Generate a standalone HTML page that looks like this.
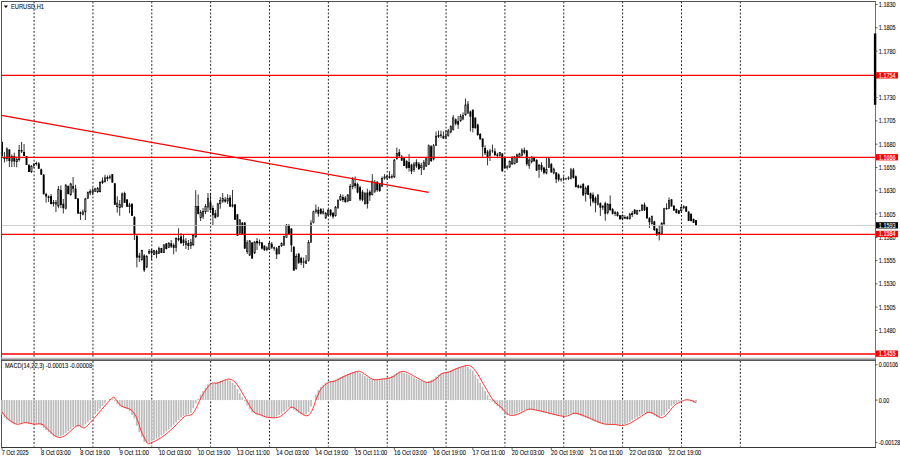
<!DOCTYPE html><html><head><meta charset="utf-8"><style>html,body{margin:0;padding:0;background:#fff;width:900px;height:460px;overflow:hidden}svg{display:block}text{font-family:"Liberation Sans",sans-serif}</style></head><body>
<svg width="900" height="460" viewBox="0 0 900 460">
<rect width="900" height="460" fill="#fff"/>
<line x1="34.08" y1="1.5" x2="34.08" y2="357.5" stroke="#202020" stroke-width="1" stroke-dasharray="1.84 1.84"/>
<line x1="34.08" y1="361" x2="34.08" y2="446.5" stroke="#202020" stroke-width="1" stroke-dasharray="1.84 1.84"/>
<line x1="92.94" y1="1.5" x2="92.94" y2="357.5" stroke="#202020" stroke-width="1" stroke-dasharray="1.84 1.84"/>
<line x1="92.94" y1="361" x2="92.94" y2="446.5" stroke="#202020" stroke-width="1" stroke-dasharray="1.84 1.84"/>
<line x1="151.79" y1="1.5" x2="151.79" y2="357.5" stroke="#202020" stroke-width="1" stroke-dasharray="1.84 1.84"/>
<line x1="151.79" y1="361" x2="151.79" y2="446.5" stroke="#202020" stroke-width="1" stroke-dasharray="1.84 1.84"/>
<line x1="210.65" y1="1.5" x2="210.65" y2="357.5" stroke="#202020" stroke-width="1" stroke-dasharray="1.84 1.84"/>
<line x1="210.65" y1="361" x2="210.65" y2="446.5" stroke="#202020" stroke-width="1" stroke-dasharray="1.84 1.84"/>
<line x1="269.50" y1="1.5" x2="269.50" y2="357.5" stroke="#202020" stroke-width="1" stroke-dasharray="1.84 1.84"/>
<line x1="269.50" y1="361" x2="269.50" y2="446.5" stroke="#202020" stroke-width="1" stroke-dasharray="1.84 1.84"/>
<line x1="328.36" y1="1.5" x2="328.36" y2="357.5" stroke="#202020" stroke-width="1" stroke-dasharray="1.84 1.84"/>
<line x1="328.36" y1="361" x2="328.36" y2="446.5" stroke="#202020" stroke-width="1" stroke-dasharray="1.84 1.84"/>
<line x1="387.21" y1="1.5" x2="387.21" y2="357.5" stroke="#202020" stroke-width="1" stroke-dasharray="1.84 1.84"/>
<line x1="387.21" y1="361" x2="387.21" y2="446.5" stroke="#202020" stroke-width="1" stroke-dasharray="1.84 1.84"/>
<line x1="446.07" y1="1.5" x2="446.07" y2="357.5" stroke="#202020" stroke-width="1" stroke-dasharray="1.84 1.84"/>
<line x1="446.07" y1="361" x2="446.07" y2="446.5" stroke="#202020" stroke-width="1" stroke-dasharray="1.84 1.84"/>
<line x1="504.92" y1="1.5" x2="504.92" y2="357.5" stroke="#202020" stroke-width="1" stroke-dasharray="1.84 1.84"/>
<line x1="504.92" y1="361" x2="504.92" y2="446.5" stroke="#202020" stroke-width="1" stroke-dasharray="1.84 1.84"/>
<line x1="563.78" y1="1.5" x2="563.78" y2="357.5" stroke="#202020" stroke-width="1" stroke-dasharray="1.84 1.84"/>
<line x1="563.78" y1="361" x2="563.78" y2="446.5" stroke="#202020" stroke-width="1" stroke-dasharray="1.84 1.84"/>
<line x1="622.63" y1="1.5" x2="622.63" y2="357.5" stroke="#202020" stroke-width="1" stroke-dasharray="1.84 1.84"/>
<line x1="622.63" y1="361" x2="622.63" y2="446.5" stroke="#202020" stroke-width="1" stroke-dasharray="1.84 1.84"/>
<line x1="681.49" y1="1.5" x2="681.49" y2="357.5" stroke="#202020" stroke-width="1" stroke-dasharray="1.84 1.84"/>
<line x1="681.49" y1="361" x2="681.49" y2="446.5" stroke="#202020" stroke-width="1" stroke-dasharray="1.84 1.84"/>
<line x1="740.34" y1="1.5" x2="740.34" y2="357.5" stroke="#202020" stroke-width="1" stroke-dasharray="1.84 1.84"/>
<line x1="740.34" y1="361" x2="740.34" y2="446.5" stroke="#202020" stroke-width="1" stroke-dasharray="1.84 1.84"/>
<line x1="2.00" y1="141.5" x2="2.00" y2="157.0" stroke="#000" stroke-width="0.8"/>
<rect x="1.05" y="142.0" width="1.9" height="14.0" fill="#000"/>
<line x1="4.45" y1="152.0" x2="4.45" y2="162.5" stroke="#000" stroke-width="0.8"/>
<rect x="3.50" y="157.0" width="1.9" height="2.0" fill="#000"/>
<line x1="6.90" y1="147.4" x2="6.90" y2="161.5" stroke="#000" stroke-width="0.8"/>
<rect x="6.25" y="148.8" width="1.30" height="9.9" fill="#9a9a9a" stroke="#000" stroke-width="0.6"/>
<line x1="9.36" y1="149.0" x2="9.36" y2="167.0" stroke="#000" stroke-width="0.8"/>
<rect x="8.41" y="149.5" width="1.9" height="11.5" fill="#000"/>
<line x1="11.81" y1="154.5" x2="11.81" y2="167.0" stroke="#000" stroke-width="0.8"/>
<rect x="11.16" y="156.3" width="1.30" height="4.9" fill="#9a9a9a" stroke="#000" stroke-width="0.6"/>
<line x1="14.26" y1="152.7" x2="14.26" y2="166.8" stroke="#000" stroke-width="0.8"/>
<rect x="13.31" y="156.0" width="1.9" height="5.5" fill="#000"/>
<line x1="16.71" y1="156.8" x2="16.71" y2="167.3" stroke="#000" stroke-width="0.8"/>
<rect x="16.06" y="159.3" width="1.30" height="2.4" fill="#9a9a9a" stroke="#000" stroke-width="0.6"/>
<line x1="19.17" y1="145.0" x2="19.17" y2="161.5" stroke="#000" stroke-width="0.8"/>
<rect x="18.52" y="150.3" width="1.30" height="9.4" fill="#9a9a9a" stroke="#000" stroke-width="0.6"/>
<line x1="21.62" y1="142.0" x2="21.62" y2="153.0" stroke="#000" stroke-width="0.8"/>
<rect x="20.67" y="150.0" width="1.9" height="1.5" fill="#000"/>
<line x1="24.07" y1="144.0" x2="24.07" y2="156.2" stroke="#000" stroke-width="0.8"/>
<rect x="23.12" y="152.0" width="1.9" height="4.0" fill="#000"/>
<line x1="26.52" y1="156.0" x2="26.52" y2="165.0" stroke="#000" stroke-width="0.8"/>
<rect x="25.57" y="156.0" width="1.9" height="9.0" fill="#000"/>
<line x1="28.98" y1="164.0" x2="28.98" y2="172.0" stroke="#000" stroke-width="0.8"/>
<rect x="28.03" y="165.0" width="1.9" height="7.0" fill="#000"/>
<line x1="31.43" y1="165.0" x2="31.43" y2="173.0" stroke="#000" stroke-width="0.8"/>
<rect x="30.78" y="166.3" width="1.30" height="5.4" fill="#9a9a9a" stroke="#000" stroke-width="0.6"/>
<line x1="33.88" y1="163.0" x2="33.88" y2="168.0" stroke="#000" stroke-width="0.8"/>
<rect x="33.23" y="164.3" width="1.30" height="1.4" fill="#9a9a9a" stroke="#000" stroke-width="0.6"/>
<line x1="36.33" y1="161.5" x2="36.33" y2="165.6" stroke="#000" stroke-width="0.8"/>
<rect x="35.68" y="163.3" width="1.30" height="0.4" fill="#9a9a9a" stroke="#000" stroke-width="0.6"/>
<line x1="38.78" y1="162.0" x2="38.78" y2="169.0" stroke="#000" stroke-width="0.8"/>
<rect x="37.83" y="163.5" width="1.9" height="5.2" fill="#000"/>
<line x1="41.24" y1="168.5" x2="41.24" y2="175.0" stroke="#000" stroke-width="0.8"/>
<rect x="40.29" y="169.3" width="1.9" height="5.3" fill="#000"/>
<line x1="43.69" y1="174.0" x2="43.69" y2="194.5" stroke="#000" stroke-width="0.8"/>
<rect x="42.74" y="174.6" width="1.9" height="19.5" fill="#000"/>
<line x1="46.14" y1="192.8" x2="46.14" y2="202.6" stroke="#000" stroke-width="0.8"/>
<rect x="45.19" y="194.0" width="1.9" height="2.5" fill="#000"/>
<line x1="48.59" y1="195.4" x2="48.59" y2="202.0" stroke="#000" stroke-width="0.8"/>
<rect x="47.64" y="196.5" width="1.9" height="1.5" fill="#000"/>
<line x1="51.05" y1="194.0" x2="51.05" y2="204.5" stroke="#000" stroke-width="0.8"/>
<rect x="50.10" y="196.0" width="1.9" height="8.0" fill="#000"/>
<line x1="53.50" y1="200.0" x2="53.50" y2="206.5" stroke="#000" stroke-width="0.8"/>
<rect x="52.55" y="202.0" width="1.9" height="2.0" fill="#000"/>
<line x1="55.95" y1="200.0" x2="55.95" y2="212.0" stroke="#000" stroke-width="0.8"/>
<rect x="55.30" y="202.6" width="1.30" height="1.6" fill="#9a9a9a" stroke="#000" stroke-width="0.6"/>
<line x1="58.40" y1="186.0" x2="58.40" y2="208.2" stroke="#000" stroke-width="0.8"/>
<rect x="57.75" y="189.6" width="1.30" height="16.4" fill="#9a9a9a" stroke="#000" stroke-width="0.6"/>
<line x1="60.86" y1="185.4" x2="60.86" y2="208.2" stroke="#000" stroke-width="0.8"/>
<rect x="59.91" y="190.0" width="1.9" height="15.0" fill="#000"/>
<line x1="63.31" y1="199.0" x2="63.31" y2="213.5" stroke="#000" stroke-width="0.8"/>
<rect x="62.36" y="203.7" width="1.9" height="4.5" fill="#000"/>
<line x1="65.76" y1="184.1" x2="65.76" y2="209.5" stroke="#000" stroke-width="0.8"/>
<rect x="65.11" y="185.1" width="1.30" height="23.5" fill="#9a9a9a" stroke="#000" stroke-width="0.6"/>
<line x1="68.21" y1="185.4" x2="68.21" y2="194.5" stroke="#000" stroke-width="0.8"/>
<rect x="67.26" y="186.0" width="1.9" height="8.0" fill="#000"/>
<line x1="70.66" y1="182.8" x2="70.66" y2="195.8" stroke="#000" stroke-width="0.8"/>
<rect x="70.01" y="183.8" width="1.30" height="10.9" fill="#9a9a9a" stroke="#000" stroke-width="0.6"/>
<line x1="73.12" y1="177.0" x2="73.12" y2="192.6" stroke="#000" stroke-width="0.8"/>
<rect x="72.17" y="186.1" width="1.9" height="2.6" fill="#000"/>
<line x1="75.57" y1="184.8" x2="75.57" y2="199.1" stroke="#000" stroke-width="0.8"/>
<rect x="74.62" y="188.7" width="1.9" height="10.3" fill="#000"/>
<line x1="78.02" y1="198.0" x2="78.02" y2="214.0" stroke="#000" stroke-width="0.8"/>
<rect x="77.07" y="198.5" width="1.9" height="15.0" fill="#000"/>
<line x1="80.47" y1="211.5" x2="80.47" y2="220.0" stroke="#000" stroke-width="0.8"/>
<rect x="79.52" y="212.2" width="1.9" height="1.8" fill="#000"/>
<line x1="82.93" y1="209.5" x2="82.93" y2="215.4" stroke="#000" stroke-width="0.8"/>
<rect x="82.28" y="211.8" width="1.30" height="2.7" fill="#9a9a9a" stroke="#000" stroke-width="0.6"/>
<line x1="85.38" y1="197.8" x2="85.38" y2="220.0" stroke="#000" stroke-width="0.8"/>
<rect x="84.73" y="198.8" width="1.30" height="13.1" fill="#9a9a9a" stroke="#000" stroke-width="0.6"/>
<line x1="87.83" y1="191.5" x2="87.83" y2="199.0" stroke="#000" stroke-width="0.8"/>
<rect x="87.18" y="192.3" width="1.30" height="5.9" fill="#9a9a9a" stroke="#000" stroke-width="0.6"/>
<line x1="90.28" y1="189.3" x2="90.28" y2="195.2" stroke="#000" stroke-width="0.8"/>
<rect x="89.63" y="191.6" width="1.30" height="1.4" fill="#9a9a9a" stroke="#000" stroke-width="0.6"/>
<line x1="92.74" y1="187.4" x2="92.74" y2="195.2" stroke="#000" stroke-width="0.8"/>
<rect x="92.09" y="190.9" width="1.30" height="1.4" fill="#9a9a9a" stroke="#000" stroke-width="0.6"/>
<line x1="95.19" y1="187.8" x2="95.19" y2="192.0" stroke="#000" stroke-width="0.8"/>
<rect x="94.54" y="188.8" width="1.30" height="2.4" fill="#9a9a9a" stroke="#000" stroke-width="0.6"/>
<line x1="97.64" y1="187.0" x2="97.64" y2="193.0" stroke="#000" stroke-width="0.8"/>
<rect x="96.99" y="188.3" width="1.30" height="3.4" fill="#9a9a9a" stroke="#000" stroke-width="0.6"/>
<line x1="100.09" y1="181.3" x2="100.09" y2="192.4" stroke="#000" stroke-width="0.8"/>
<rect x="99.44" y="182.3" width="1.30" height="9.4" fill="#9a9a9a" stroke="#000" stroke-width="0.6"/>
<line x1="102.54" y1="177.4" x2="102.54" y2="184.0" stroke="#000" stroke-width="0.8"/>
<rect x="101.59" y="180.6" width="1.9" height="2.4" fill="#000"/>
<line x1="105.00" y1="174.8" x2="105.00" y2="182.6" stroke="#000" stroke-width="0.8"/>
<rect x="104.35" y="177.7" width="1.30" height="4.0" fill="#9a9a9a" stroke="#000" stroke-width="0.6"/>
<line x1="107.45" y1="175.5" x2="107.45" y2="181.3" stroke="#000" stroke-width="0.8"/>
<rect x="106.80" y="177.3" width="1.30" height="1.4" fill="#9a9a9a" stroke="#000" stroke-width="0.6"/>
<line x1="109.90" y1="174.8" x2="109.90" y2="179.4" stroke="#000" stroke-width="0.8"/>
<rect x="109.25" y="176.8" width="1.30" height="0.9" fill="#9a9a9a" stroke="#000" stroke-width="0.6"/>
<line x1="112.35" y1="174.0" x2="112.35" y2="182.6" stroke="#000" stroke-width="0.8"/>
<rect x="111.40" y="174.2" width="1.9" height="8.4" fill="#000"/>
<line x1="114.81" y1="183.0" x2="114.81" y2="205.0" stroke="#000" stroke-width="0.8"/>
<rect x="113.86" y="183.3" width="1.9" height="21.5" fill="#000"/>
<line x1="117.26" y1="196.3" x2="117.26" y2="212.6" stroke="#000" stroke-width="0.8"/>
<rect x="116.61" y="203.1" width="1.30" height="3.6" fill="#9a9a9a" stroke="#000" stroke-width="0.6"/>
<line x1="119.71" y1="200.0" x2="119.71" y2="215.8" stroke="#000" stroke-width="0.8"/>
<rect x="119.06" y="204.3" width="1.30" height="3.4" fill="#9a9a9a" stroke="#000" stroke-width="0.6"/>
<line x1="122.16" y1="192.4" x2="122.16" y2="208.0" stroke="#000" stroke-width="0.8"/>
<rect x="121.51" y="194.0" width="1.30" height="12.4" fill="#9a9a9a" stroke="#000" stroke-width="0.6"/>
<line x1="124.62" y1="191.7" x2="124.62" y2="203.0" stroke="#000" stroke-width="0.8"/>
<rect x="123.67" y="193.0" width="1.9" height="9.8" fill="#000"/>
<line x1="127.07" y1="199.0" x2="127.07" y2="207.0" stroke="#000" stroke-width="0.8"/>
<rect x="126.12" y="199.5" width="1.9" height="7.2" fill="#000"/>
<line x1="129.52" y1="202.8" x2="129.52" y2="213.2" stroke="#000" stroke-width="0.8"/>
<rect x="128.87" y="204.8" width="1.30" height="1.9" fill="#9a9a9a" stroke="#000" stroke-width="0.6"/>
<line x1="131.97" y1="203.0" x2="131.97" y2="216.0" stroke="#000" stroke-width="0.8"/>
<rect x="131.02" y="204.0" width="1.9" height="11.8" fill="#000"/>
<line x1="134.42" y1="216.0" x2="134.42" y2="240.0" stroke="#000" stroke-width="0.8"/>
<rect x="133.47" y="217.0" width="1.9" height="17.8" fill="#000"/>
<line x1="136.88" y1="235.0" x2="136.88" y2="267.4" stroke="#000" stroke-width="0.8"/>
<rect x="135.93" y="236.0" width="1.9" height="21.6" fill="#000"/>
<line x1="139.33" y1="253.0" x2="139.33" y2="262.0" stroke="#000" stroke-width="0.8"/>
<rect x="138.38" y="255.6" width="1.9" height="2.0" fill="#000"/>
<line x1="141.78" y1="249.8" x2="141.78" y2="260.8" stroke="#000" stroke-width="0.8"/>
<rect x="141.13" y="250.3" width="1.30" height="9.4" fill="#9a9a9a" stroke="#000" stroke-width="0.6"/>
<line x1="144.23" y1="254.0" x2="144.23" y2="272.0" stroke="#000" stroke-width="0.8"/>
<rect x="143.28" y="255.5" width="1.9" height="14.9" fill="#000"/>
<line x1="146.69" y1="255.0" x2="146.69" y2="268.0" stroke="#000" stroke-width="0.8"/>
<rect x="146.04" y="256.3" width="1.30" height="10.8" fill="#9a9a9a" stroke="#000" stroke-width="0.6"/>
<line x1="149.14" y1="249.0" x2="149.14" y2="254.3" stroke="#000" stroke-width="0.8"/>
<rect x="148.49" y="251.3" width="1.30" height="1.9" fill="#9a9a9a" stroke="#000" stroke-width="0.6"/>
<line x1="151.59" y1="249.0" x2="151.59" y2="260.0" stroke="#000" stroke-width="0.8"/>
<rect x="150.64" y="250.5" width="1.9" height="2.5" fill="#000"/>
<line x1="154.04" y1="249.8" x2="154.04" y2="255.0" stroke="#000" stroke-width="0.8"/>
<rect x="153.39" y="250.3" width="1.30" height="4.4" fill="#9a9a9a" stroke="#000" stroke-width="0.6"/>
<line x1="156.49" y1="249.8" x2="156.49" y2="258.2" stroke="#000" stroke-width="0.8"/>
<rect x="155.54" y="251.0" width="1.9" height="3.3" fill="#000"/>
<line x1="158.95" y1="246.5" x2="158.95" y2="254.0" stroke="#000" stroke-width="0.8"/>
<rect x="158.30" y="248.3" width="1.30" height="5.1" fill="#9a9a9a" stroke="#000" stroke-width="0.6"/>
<line x1="161.40" y1="247.8" x2="161.40" y2="253.0" stroke="#000" stroke-width="0.8"/>
<rect x="160.45" y="248.0" width="1.9" height="5.0" fill="#000"/>
<line x1="163.85" y1="244.5" x2="163.85" y2="253.0" stroke="#000" stroke-width="0.8"/>
<rect x="163.20" y="244.8" width="1.30" height="7.9" fill="#9a9a9a" stroke="#000" stroke-width="0.6"/>
<line x1="166.30" y1="243.0" x2="166.30" y2="249.5" stroke="#000" stroke-width="0.8"/>
<rect x="165.35" y="243.5" width="1.9" height="5.5" fill="#000"/>
<line x1="168.76" y1="242.0" x2="168.76" y2="248.0" stroke="#000" stroke-width="0.8"/>
<rect x="168.11" y="243.6" width="1.30" height="3.9" fill="#9a9a9a" stroke="#000" stroke-width="0.6"/>
<line x1="171.21" y1="240.0" x2="171.21" y2="248.0" stroke="#000" stroke-width="0.8"/>
<rect x="170.26" y="243.3" width="1.9" height="3.2" fill="#000"/>
<line x1="173.66" y1="243.3" x2="173.66" y2="254.3" stroke="#000" stroke-width="0.8"/>
<rect x="172.71" y="245.0" width="1.9" height="2.8" fill="#000"/>
<line x1="176.11" y1="237.4" x2="176.11" y2="251.7" stroke="#000" stroke-width="0.8"/>
<rect x="175.46" y="238.3" width="1.30" height="9.2" fill="#9a9a9a" stroke="#000" stroke-width="0.6"/>
<line x1="178.57" y1="228.3" x2="178.57" y2="241.3" stroke="#000" stroke-width="0.8"/>
<rect x="177.62" y="238.0" width="1.9" height="2.0" fill="#000"/>
<line x1="181.02" y1="233.0" x2="181.02" y2="244.0" stroke="#000" stroke-width="0.8"/>
<rect x="180.07" y="236.5" width="1.9" height="6.5" fill="#000"/>
<line x1="183.47" y1="235.0" x2="183.47" y2="246.0" stroke="#000" stroke-width="0.8"/>
<rect x="182.52" y="239.5" width="1.9" height="3.5" fill="#000"/>
<line x1="185.92" y1="238.0" x2="185.92" y2="249.0" stroke="#000" stroke-width="0.8"/>
<rect x="185.27" y="241.3" width="1.30" height="3.4" fill="#9a9a9a" stroke="#000" stroke-width="0.6"/>
<line x1="188.37" y1="240.0" x2="188.37" y2="250.0" stroke="#000" stroke-width="0.8"/>
<rect x="187.42" y="243.0" width="1.9" height="3.0" fill="#000"/>
<line x1="190.83" y1="239.0" x2="190.83" y2="249.0" stroke="#000" stroke-width="0.8"/>
<rect x="190.18" y="242.3" width="1.30" height="3.4" fill="#9a9a9a" stroke="#000" stroke-width="0.6"/>
<line x1="193.28" y1="234.5" x2="193.28" y2="246.0" stroke="#000" stroke-width="0.8"/>
<rect x="192.63" y="235.6" width="1.30" height="9.1" fill="#9a9a9a" stroke="#000" stroke-width="0.6"/>
<line x1="195.73" y1="190.2" x2="195.73" y2="237.8" stroke="#000" stroke-width="0.8"/>
<rect x="195.08" y="206.5" width="1.30" height="30.4" fill="#9a9a9a" stroke="#000" stroke-width="0.6"/>
<line x1="198.18" y1="194.5" x2="198.18" y2="214.5" stroke="#000" stroke-width="0.8"/>
<rect x="197.23" y="206.0" width="1.9" height="7.9" fill="#000"/>
<line x1="200.64" y1="210.0" x2="200.64" y2="221.0" stroke="#000" stroke-width="0.8"/>
<rect x="199.99" y="212.3" width="1.30" height="5.4" fill="#9a9a9a" stroke="#000" stroke-width="0.6"/>
<line x1="203.09" y1="208.0" x2="203.09" y2="219.0" stroke="#000" stroke-width="0.8"/>
<rect x="202.44" y="211.6" width="1.30" height="4.6" fill="#9a9a9a" stroke="#000" stroke-width="0.6"/>
<line x1="205.54" y1="204.0" x2="205.54" y2="214.0" stroke="#000" stroke-width="0.8"/>
<rect x="204.89" y="206.3" width="1.30" height="5.4" fill="#9a9a9a" stroke="#000" stroke-width="0.6"/>
<line x1="207.99" y1="193.0" x2="207.99" y2="212.0" stroke="#000" stroke-width="0.8"/>
<rect x="207.34" y="198.6" width="1.30" height="8.5" fill="#9a9a9a" stroke="#000" stroke-width="0.6"/>
<line x1="210.45" y1="193.0" x2="210.45" y2="212.6" stroke="#000" stroke-width="0.8"/>
<rect x="209.50" y="202.2" width="1.9" height="7.8" fill="#000"/>
<line x1="212.90" y1="205.4" x2="212.90" y2="225.0" stroke="#000" stroke-width="0.8"/>
<rect x="211.95" y="208.0" width="1.9" height="7.2" fill="#000"/>
<line x1="215.35" y1="210.0" x2="215.35" y2="218.5" stroke="#000" stroke-width="0.8"/>
<rect x="214.40" y="213.2" width="1.9" height="4.6" fill="#000"/>
<line x1="217.80" y1="202.8" x2="217.80" y2="217.2" stroke="#000" stroke-width="0.8"/>
<rect x="217.15" y="203.8" width="1.30" height="12.4" fill="#9a9a9a" stroke="#000" stroke-width="0.6"/>
<line x1="220.25" y1="197.0" x2="220.25" y2="208.7" stroke="#000" stroke-width="0.8"/>
<rect x="219.60" y="200.5" width="1.30" height="3.3" fill="#9a9a9a" stroke="#000" stroke-width="0.6"/>
<line x1="222.71" y1="193.0" x2="222.71" y2="202.8" stroke="#000" stroke-width="0.8"/>
<rect x="222.06" y="198.6" width="1.30" height="2.6" fill="#9a9a9a" stroke="#000" stroke-width="0.6"/>
<line x1="225.16" y1="197.0" x2="225.16" y2="202.8" stroke="#000" stroke-width="0.8"/>
<rect x="224.21" y="199.5" width="1.9" height="2.0" fill="#000"/>
<line x1="227.61" y1="194.3" x2="227.61" y2="204.0" stroke="#000" stroke-width="0.8"/>
<rect x="226.96" y="198.6" width="1.30" height="2.6" fill="#9a9a9a" stroke="#000" stroke-width="0.6"/>
<line x1="230.06" y1="195.0" x2="230.06" y2="206.7" stroke="#000" stroke-width="0.8"/>
<rect x="229.11" y="197.6" width="1.9" height="9.1" fill="#000"/>
<line x1="232.52" y1="190.0" x2="232.52" y2="207.5" stroke="#000" stroke-width="0.8"/>
<rect x="231.57" y="204.5" width="1.9" height="2.0" fill="#000"/>
<line x1="234.97" y1="204.0" x2="234.97" y2="220.0" stroke="#000" stroke-width="0.8"/>
<rect x="234.02" y="204.5" width="1.9" height="15.2" fill="#000"/>
<line x1="237.42" y1="214.0" x2="237.42" y2="236.0" stroke="#000" stroke-width="0.8"/>
<rect x="236.47" y="214.4" width="1.9" height="21.3" fill="#000"/>
<line x1="239.87" y1="219.0" x2="239.87" y2="234.5" stroke="#000" stroke-width="0.8"/>
<rect x="239.22" y="220.0" width="1.30" height="13.1" fill="#9a9a9a" stroke="#000" stroke-width="0.6"/>
<line x1="242.33" y1="222.0" x2="242.33" y2="235.0" stroke="#000" stroke-width="0.8"/>
<rect x="241.38" y="222.7" width="1.9" height="11.4" fill="#000"/>
<line x1="244.78" y1="222.0" x2="244.78" y2="249.0" stroke="#000" stroke-width="0.8"/>
<rect x="243.83" y="222.7" width="1.9" height="25.9" fill="#000"/>
<line x1="247.23" y1="240.2" x2="247.23" y2="254.0" stroke="#000" stroke-width="0.8"/>
<rect x="246.58" y="242.8" width="1.30" height="8.9" fill="#9a9a9a" stroke="#000" stroke-width="0.6"/>
<line x1="249.68" y1="240.0" x2="249.68" y2="256.0" stroke="#000" stroke-width="0.8"/>
<rect x="249.03" y="240.8" width="1.30" height="14.3" fill="#9a9a9a" stroke="#000" stroke-width="0.6"/>
<line x1="252.13" y1="242.0" x2="252.13" y2="259.0" stroke="#000" stroke-width="0.8"/>
<rect x="251.18" y="242.5" width="1.9" height="16.0" fill="#000"/>
<line x1="254.59" y1="241.0" x2="254.59" y2="254.0" stroke="#000" stroke-width="0.8"/>
<rect x="253.94" y="242.1" width="1.30" height="10.8" fill="#9a9a9a" stroke="#000" stroke-width="0.6"/>
<line x1="257.04" y1="238.0" x2="257.04" y2="250.0" stroke="#000" stroke-width="0.8"/>
<rect x="256.09" y="241.0" width="1.9" height="2.3" fill="#000"/>
<line x1="259.49" y1="239.5" x2="259.49" y2="245.6" stroke="#000" stroke-width="0.8"/>
<rect x="258.54" y="241.8" width="1.9" height="1.5" fill="#000"/>
<line x1="261.94" y1="242.0" x2="261.94" y2="249.5" stroke="#000" stroke-width="0.8"/>
<rect x="260.99" y="242.5" width="1.9" height="6.1" fill="#000"/>
<line x1="264.40" y1="245.5" x2="264.40" y2="251.0" stroke="#000" stroke-width="0.8"/>
<rect x="263.45" y="245.6" width="1.9" height="4.5" fill="#000"/>
<line x1="266.85" y1="246.3" x2="266.85" y2="251.0" stroke="#000" stroke-width="0.8"/>
<rect x="266.20" y="247.8" width="1.30" height="1.9" fill="#9a9a9a" stroke="#000" stroke-width="0.6"/>
<line x1="269.30" y1="241.8" x2="269.30" y2="250.0" stroke="#000" stroke-width="0.8"/>
<rect x="268.65" y="243.6" width="1.30" height="5.5" fill="#9a9a9a" stroke="#000" stroke-width="0.6"/>
<line x1="271.75" y1="242.0" x2="271.75" y2="249.0" stroke="#000" stroke-width="0.8"/>
<rect x="270.80" y="243.8" width="1.9" height="3.8" fill="#000"/>
<line x1="274.21" y1="246.5" x2="274.21" y2="250.7" stroke="#000" stroke-width="0.8"/>
<rect x="273.56" y="247.8" width="1.30" height="0.4" fill="#9a9a9a" stroke="#000" stroke-width="0.6"/>
<line x1="276.66" y1="247.0" x2="276.66" y2="259.0" stroke="#000" stroke-width="0.8"/>
<rect x="275.71" y="248.4" width="1.9" height="6.1" fill="#000"/>
<line x1="279.11" y1="245.5" x2="279.11" y2="254.5" stroke="#000" stroke-width="0.8"/>
<rect x="278.46" y="246.3" width="1.30" height="7.1" fill="#9a9a9a" stroke="#000" stroke-width="0.6"/>
<line x1="281.56" y1="242.3" x2="281.56" y2="247.0" stroke="#000" stroke-width="0.8"/>
<rect x="280.91" y="243.6" width="1.30" height="2.1" fill="#9a9a9a" stroke="#000" stroke-width="0.6"/>
<line x1="284.01" y1="235.5" x2="284.01" y2="246.0" stroke="#000" stroke-width="0.8"/>
<rect x="283.36" y="236.5" width="1.30" height="8.5" fill="#9a9a9a" stroke="#000" stroke-width="0.6"/>
<line x1="286.47" y1="224.0" x2="286.47" y2="238.0" stroke="#000" stroke-width="0.8"/>
<rect x="285.82" y="225.1" width="1.30" height="12.3" fill="#9a9a9a" stroke="#000" stroke-width="0.6"/>
<line x1="288.92" y1="224.0" x2="288.92" y2="234.5" stroke="#000" stroke-width="0.8"/>
<rect x="287.97" y="225.0" width="1.9" height="8.9" fill="#000"/>
<line x1="291.37" y1="228.0" x2="291.37" y2="252.0" stroke="#000" stroke-width="0.8"/>
<rect x="290.42" y="228.6" width="1.9" height="16.7" fill="#000"/>
<line x1="293.82" y1="246.0" x2="293.82" y2="271.0" stroke="#000" stroke-width="0.8"/>
<rect x="292.87" y="246.9" width="1.9" height="23.5" fill="#000"/>
<line x1="296.28" y1="253.7" x2="296.28" y2="269.7" stroke="#000" stroke-width="0.8"/>
<rect x="295.63" y="256.3" width="1.30" height="12.4" fill="#9a9a9a" stroke="#000" stroke-width="0.6"/>
<line x1="298.73" y1="253.0" x2="298.73" y2="264.0" stroke="#000" stroke-width="0.8"/>
<rect x="297.78" y="253.7" width="1.9" height="9.1" fill="#000"/>
<line x1="301.18" y1="256.8" x2="301.18" y2="265.0" stroke="#000" stroke-width="0.8"/>
<rect x="300.23" y="258.0" width="1.9" height="4.8" fill="#000"/>
<line x1="303.63" y1="257.5" x2="303.63" y2="268.0" stroke="#000" stroke-width="0.8"/>
<rect x="302.98" y="261.8" width="1.30" height="0.9" fill="#9a9a9a" stroke="#000" stroke-width="0.6"/>
<line x1="306.09" y1="255.0" x2="306.09" y2="264.0" stroke="#000" stroke-width="0.8"/>
<rect x="305.44" y="260.9" width="1.30" height="2.3" fill="#9a9a9a" stroke="#000" stroke-width="0.6"/>
<line x1="308.54" y1="240.0" x2="308.54" y2="261.5" stroke="#000" stroke-width="0.8"/>
<rect x="307.89" y="242.6" width="1.30" height="17.7" fill="#9a9a9a" stroke="#000" stroke-width="0.6"/>
<line x1="310.99" y1="220.2" x2="310.99" y2="243.0" stroke="#000" stroke-width="0.8"/>
<rect x="310.34" y="223.1" width="1.30" height="19.0" fill="#9a9a9a" stroke="#000" stroke-width="0.6"/>
<line x1="313.44" y1="210.6" x2="313.44" y2="223.5" stroke="#000" stroke-width="0.8"/>
<rect x="312.79" y="211.7" width="1.30" height="10.8" fill="#9a9a9a" stroke="#000" stroke-width="0.6"/>
<line x1="315.89" y1="204.5" x2="315.89" y2="213.7" stroke="#000" stroke-width="0.8"/>
<rect x="315.24" y="209.8" width="1.30" height="1.9" fill="#9a9a9a" stroke="#000" stroke-width="0.6"/>
<line x1="318.35" y1="206.8" x2="318.35" y2="216.7" stroke="#000" stroke-width="0.8"/>
<rect x="317.40" y="209.8" width="1.9" height="3.9" fill="#000"/>
<line x1="320.80" y1="208.0" x2="320.80" y2="214.5" stroke="#000" stroke-width="0.8"/>
<rect x="319.85" y="209.1" width="1.9" height="4.6" fill="#000"/>
<line x1="323.25" y1="208.3" x2="323.25" y2="214.5" stroke="#000" stroke-width="0.8"/>
<rect x="322.60" y="211.7" width="1.30" height="1.5" fill="#9a9a9a" stroke="#000" stroke-width="0.6"/>
<line x1="325.70" y1="212.0" x2="325.70" y2="219.0" stroke="#000" stroke-width="0.8"/>
<rect x="325.05" y="213.2" width="1.30" height="4.7" fill="#9a9a9a" stroke="#000" stroke-width="0.6"/>
<line x1="328.16" y1="209.0" x2="328.16" y2="216.0" stroke="#000" stroke-width="0.8"/>
<rect x="327.51" y="210.2" width="1.30" height="4.7" fill="#9a9a9a" stroke="#000" stroke-width="0.6"/>
<line x1="330.61" y1="209.0" x2="330.61" y2="216.5" stroke="#000" stroke-width="0.8"/>
<rect x="329.66" y="209.9" width="1.9" height="5.3" fill="#000"/>
<line x1="333.06" y1="212.0" x2="333.06" y2="218.7" stroke="#000" stroke-width="0.8"/>
<rect x="332.11" y="212.9" width="1.9" height="3.8" fill="#000"/>
<line x1="335.51" y1="206.0" x2="335.51" y2="216.7" stroke="#000" stroke-width="0.8"/>
<rect x="334.86" y="207.1" width="1.30" height="8.6" fill="#9a9a9a" stroke="#000" stroke-width="0.6"/>
<line x1="337.97" y1="199.3" x2="337.97" y2="208.5" stroke="#000" stroke-width="0.8"/>
<rect x="337.32" y="200.3" width="1.30" height="7.7" fill="#9a9a9a" stroke="#000" stroke-width="0.6"/>
<line x1="340.42" y1="193.9" x2="340.42" y2="201.0" stroke="#000" stroke-width="0.8"/>
<rect x="339.77" y="196.5" width="1.30" height="3.4" fill="#9a9a9a" stroke="#000" stroke-width="0.6"/>
<line x1="342.87" y1="194.6" x2="342.87" y2="202.0" stroke="#000" stroke-width="0.8"/>
<rect x="341.92" y="197.0" width="1.9" height="3.0" fill="#000"/>
<line x1="345.32" y1="196.0" x2="345.32" y2="202.5" stroke="#000" stroke-width="0.8"/>
<rect x="344.37" y="197.7" width="1.9" height="4.5" fill="#000"/>
<line x1="347.77" y1="194.0" x2="347.77" y2="202.3" stroke="#000" stroke-width="0.8"/>
<rect x="347.12" y="194.9" width="1.30" height="6.3" fill="#9a9a9a" stroke="#000" stroke-width="0.6"/>
<line x1="350.23" y1="184.0" x2="350.23" y2="201.0" stroke="#000" stroke-width="0.8"/>
<rect x="349.58" y="186.6" width="1.30" height="13.8" fill="#9a9a9a" stroke="#000" stroke-width="0.6"/>
<line x1="352.68" y1="177.0" x2="352.68" y2="189.3" stroke="#000" stroke-width="0.8"/>
<rect x="352.03" y="179.7" width="1.30" height="7.0" fill="#9a9a9a" stroke="#000" stroke-width="0.6"/>
<line x1="355.13" y1="176.4" x2="355.13" y2="188.5" stroke="#000" stroke-width="0.8"/>
<rect x="354.18" y="183.2" width="1.9" height="2.8" fill="#000"/>
<line x1="357.58" y1="182.6" x2="357.58" y2="193.3" stroke="#000" stroke-width="0.8"/>
<rect x="356.63" y="184.1" width="1.9" height="8.4" fill="#000"/>
<line x1="360.04" y1="185.7" x2="360.04" y2="200.9" stroke="#000" stroke-width="0.8"/>
<rect x="359.09" y="187.2" width="1.9" height="12.2" fill="#000"/>
<line x1="362.49" y1="190.0" x2="362.49" y2="201.4" stroke="#000" stroke-width="0.8"/>
<rect x="361.54" y="191.8" width="1.9" height="8.3" fill="#000"/>
<line x1="364.94" y1="191.8" x2="364.94" y2="204.7" stroke="#000" stroke-width="0.8"/>
<rect x="364.29" y="193.6" width="1.30" height="10.1" fill="#9a9a9a" stroke="#000" stroke-width="0.6"/>
<line x1="367.39" y1="188.7" x2="367.39" y2="208.5" stroke="#000" stroke-width="0.8"/>
<rect x="366.44" y="192.5" width="1.9" height="11.4" fill="#000"/>
<line x1="369.85" y1="190.2" x2="369.85" y2="200.9" stroke="#000" stroke-width="0.8"/>
<rect x="368.90" y="191.8" width="1.9" height="3.7" fill="#000"/>
<line x1="372.30" y1="174.2" x2="372.30" y2="195.5" stroke="#000" stroke-width="0.8"/>
<rect x="371.65" y="181.4" width="1.30" height="13.1" fill="#9a9a9a" stroke="#000" stroke-width="0.6"/>
<line x1="374.75" y1="180.0" x2="374.75" y2="193.0" stroke="#000" stroke-width="0.8"/>
<rect x="374.10" y="182.2" width="1.30" height="9.3" fill="#9a9a9a" stroke="#000" stroke-width="0.6"/>
<line x1="377.20" y1="181.0" x2="377.20" y2="191.8" stroke="#000" stroke-width="0.8"/>
<rect x="376.25" y="181.9" width="1.9" height="8.3" fill="#000"/>
<line x1="379.65" y1="183.0" x2="379.65" y2="192.0" stroke="#000" stroke-width="0.8"/>
<rect x="378.70" y="184.1" width="1.9" height="6.9" fill="#000"/>
<line x1="382.11" y1="176.5" x2="382.11" y2="187.2" stroke="#000" stroke-width="0.8"/>
<rect x="381.46" y="178.3" width="1.30" height="7.8" fill="#9a9a9a" stroke="#000" stroke-width="0.6"/>
<line x1="384.56" y1="174.2" x2="384.56" y2="179.6" stroke="#000" stroke-width="0.8"/>
<rect x="383.91" y="176.8" width="1.30" height="1.4" fill="#9a9a9a" stroke="#000" stroke-width="0.6"/>
<line x1="387.01" y1="175.0" x2="387.01" y2="179.6" stroke="#000" stroke-width="0.8"/>
<rect x="386.36" y="176.6" width="1.30" height="0.6" fill="#9a9a9a" stroke="#000" stroke-width="0.6"/>
<line x1="389.46" y1="171.2" x2="389.46" y2="178.8" stroke="#000" stroke-width="0.8"/>
<rect x="388.51" y="176.3" width="1.9" height="1.7" fill="#000"/>
<line x1="391.92" y1="174.2" x2="391.92" y2="178.8" stroke="#000" stroke-width="0.8"/>
<rect x="391.27" y="176.3" width="1.30" height="0.9" fill="#9a9a9a" stroke="#000" stroke-width="0.6"/>
<line x1="394.37" y1="159.0" x2="394.37" y2="178.0" stroke="#000" stroke-width="0.8"/>
<rect x="393.72" y="160.1" width="1.30" height="16.9" fill="#9a9a9a" stroke="#000" stroke-width="0.6"/>
<line x1="396.82" y1="147.6" x2="396.82" y2="159.8" stroke="#000" stroke-width="0.8"/>
<rect x="396.17" y="153.3" width="1.30" height="5.4" fill="#9a9a9a" stroke="#000" stroke-width="0.6"/>
<line x1="399.27" y1="149.1" x2="399.27" y2="157.5" stroke="#000" stroke-width="0.8"/>
<rect x="398.32" y="152.2" width="1.9" height="3.8" fill="#000"/>
<line x1="401.72" y1="155.0" x2="401.72" y2="161.0" stroke="#000" stroke-width="0.8"/>
<rect x="400.77" y="156.7" width="1.9" height="3.8" fill="#000"/>
<line x1="404.18" y1="157.5" x2="404.18" y2="166.0" stroke="#000" stroke-width="0.8"/>
<rect x="403.23" y="158.3" width="1.9" height="7.6" fill="#000"/>
<line x1="406.63" y1="160.2" x2="406.63" y2="168.9" stroke="#000" stroke-width="0.8"/>
<rect x="405.68" y="161.0" width="1.9" height="7.0" fill="#000"/>
<line x1="409.08" y1="154.1" x2="409.08" y2="171.5" stroke="#000" stroke-width="0.8"/>
<rect x="408.13" y="162.0" width="1.9" height="6.0" fill="#000"/>
<line x1="411.53" y1="163.7" x2="411.53" y2="174.1" stroke="#000" stroke-width="0.8"/>
<rect x="410.58" y="164.6" width="1.9" height="6.9" fill="#000"/>
<line x1="413.99" y1="162.0" x2="413.99" y2="172.0" stroke="#000" stroke-width="0.8"/>
<rect x="413.34" y="164.0" width="1.30" height="5.7" fill="#9a9a9a" stroke="#000" stroke-width="0.6"/>
<line x1="416.44" y1="159.3" x2="416.44" y2="168.0" stroke="#000" stroke-width="0.8"/>
<rect x="415.49" y="162.0" width="1.9" height="4.3" fill="#000"/>
<line x1="418.89" y1="162.0" x2="418.89" y2="170.0" stroke="#000" stroke-width="0.8"/>
<rect x="417.94" y="163.7" width="1.9" height="5.3" fill="#000"/>
<line x1="421.34" y1="163.0" x2="421.34" y2="175.0" stroke="#000" stroke-width="0.8"/>
<rect x="420.69" y="165.7" width="1.30" height="2.0" fill="#9a9a9a" stroke="#000" stroke-width="0.6"/>
<line x1="423.80" y1="160.0" x2="423.80" y2="170.0" stroke="#000" stroke-width="0.8"/>
<rect x="423.15" y="162.3" width="1.30" height="7.2" fill="#9a9a9a" stroke="#000" stroke-width="0.6"/>
<line x1="426.25" y1="157.5" x2="426.25" y2="167.0" stroke="#000" stroke-width="0.8"/>
<rect x="425.60" y="158.8" width="1.30" height="7.2" fill="#9a9a9a" stroke="#000" stroke-width="0.6"/>
<line x1="428.70" y1="144.5" x2="428.70" y2="165.0" stroke="#000" stroke-width="0.8"/>
<rect x="428.05" y="145.7" width="1.30" height="18.6" fill="#9a9a9a" stroke="#000" stroke-width="0.6"/>
<line x1="431.15" y1="145.0" x2="431.15" y2="162.0" stroke="#000" stroke-width="0.8"/>
<rect x="430.20" y="146.3" width="1.9" height="14.7" fill="#000"/>
<line x1="433.60" y1="144.0" x2="433.60" y2="160.5" stroke="#000" stroke-width="0.8"/>
<rect x="432.95" y="145.7" width="1.30" height="13.3" fill="#9a9a9a" stroke="#000" stroke-width="0.6"/>
<line x1="436.06" y1="131.5" x2="436.06" y2="146.0" stroke="#000" stroke-width="0.8"/>
<rect x="435.41" y="136.2" width="1.30" height="8.9" fill="#9a9a9a" stroke="#000" stroke-width="0.6"/>
<line x1="438.51" y1="130.7" x2="438.51" y2="138.0" stroke="#000" stroke-width="0.8"/>
<rect x="437.56" y="135.0" width="1.9" height="1.7" fill="#000"/>
<line x1="440.96" y1="130.7" x2="440.96" y2="138.0" stroke="#000" stroke-width="0.8"/>
<rect x="440.31" y="134.8" width="1.30" height="0.9" fill="#9a9a9a" stroke="#000" stroke-width="0.6"/>
<line x1="443.41" y1="131.5" x2="443.41" y2="139.0" stroke="#000" stroke-width="0.8"/>
<rect x="442.46" y="135.9" width="1.9" height="2.6" fill="#000"/>
<line x1="445.87" y1="130.0" x2="445.87" y2="139.0" stroke="#000" stroke-width="0.8"/>
<rect x="445.22" y="136.2" width="1.30" height="1.1" fill="#9a9a9a" stroke="#000" stroke-width="0.6"/>
<line x1="448.32" y1="128.9" x2="448.32" y2="136.7" stroke="#000" stroke-width="0.8"/>
<rect x="447.67" y="131.0" width="1.30" height="4.6" fill="#9a9a9a" stroke="#000" stroke-width="0.6"/>
<line x1="450.77" y1="125.4" x2="450.77" y2="133.3" stroke="#000" stroke-width="0.8"/>
<rect x="450.12" y="126.6" width="1.30" height="5.5" fill="#9a9a9a" stroke="#000" stroke-width="0.6"/>
<line x1="453.22" y1="115.0" x2="453.22" y2="130.7" stroke="#000" stroke-width="0.8"/>
<rect x="452.57" y="117.9" width="1.30" height="11.6" fill="#9a9a9a" stroke="#000" stroke-width="0.6"/>
<line x1="455.68" y1="118.5" x2="455.68" y2="125.4" stroke="#000" stroke-width="0.8"/>
<rect x="454.73" y="119.3" width="1.9" height="4.4" fill="#000"/>
<line x1="458.13" y1="115.9" x2="458.13" y2="128.9" stroke="#000" stroke-width="0.8"/>
<rect x="457.18" y="121.0" width="1.9" height="3.6" fill="#000"/>
<line x1="460.58" y1="114.1" x2="460.58" y2="121.9" stroke="#000" stroke-width="0.8"/>
<rect x="459.93" y="116.2" width="1.30" height="4.5" fill="#9a9a9a" stroke="#000" stroke-width="0.6"/>
<line x1="463.03" y1="112.4" x2="463.03" y2="120.2" stroke="#000" stroke-width="0.8"/>
<rect x="462.38" y="115.3" width="1.30" height="3.7" fill="#9a9a9a" stroke="#000" stroke-width="0.6"/>
<line x1="465.48" y1="98.5" x2="465.48" y2="115.9" stroke="#000" stroke-width="0.8"/>
<rect x="464.83" y="104.9" width="1.30" height="9.8" fill="#9a9a9a" stroke="#000" stroke-width="0.6"/>
<line x1="467.94" y1="101.0" x2="467.94" y2="114.1" stroke="#000" stroke-width="0.8"/>
<rect x="467.29" y="104.0" width="1.30" height="9.0" fill="#9a9a9a" stroke="#000" stroke-width="0.6"/>
<line x1="470.39" y1="110.6" x2="470.39" y2="131.5" stroke="#000" stroke-width="0.8"/>
<rect x="469.44" y="111.5" width="1.9" height="5.2" fill="#000"/>
<line x1="472.84" y1="109.0" x2="472.84" y2="132.4" stroke="#000" stroke-width="0.8"/>
<rect x="471.89" y="110.0" width="1.9" height="18.0" fill="#000"/>
<line x1="475.29" y1="117.6" x2="475.29" y2="128.9" stroke="#000" stroke-width="0.8"/>
<rect x="474.34" y="117.6" width="1.9" height="10.4" fill="#000"/>
<line x1="477.75" y1="123.7" x2="477.75" y2="135.9" stroke="#000" stroke-width="0.8"/>
<rect x="476.80" y="124.6" width="1.9" height="10.4" fill="#000"/>
<line x1="480.20" y1="133.0" x2="480.20" y2="140.0" stroke="#000" stroke-width="0.8"/>
<rect x="479.25" y="134.0" width="1.9" height="5.3" fill="#000"/>
<line x1="482.65" y1="138.5" x2="482.65" y2="156.7" stroke="#000" stroke-width="0.8"/>
<rect x="481.70" y="138.5" width="1.9" height="8.7" fill="#000"/>
<line x1="485.10" y1="145.4" x2="485.10" y2="155.0" stroke="#000" stroke-width="0.8"/>
<rect x="484.15" y="148.0" width="1.9" height="5.3" fill="#000"/>
<line x1="487.56" y1="149.8" x2="487.56" y2="165.4" stroke="#000" stroke-width="0.8"/>
<rect x="486.61" y="151.5" width="1.9" height="6.1" fill="#000"/>
<line x1="490.01" y1="148.9" x2="490.01" y2="161.0" stroke="#000" stroke-width="0.8"/>
<rect x="489.36" y="151.0" width="1.30" height="4.6" fill="#9a9a9a" stroke="#000" stroke-width="0.6"/>
<line x1="492.46" y1="144.5" x2="492.46" y2="152.8" stroke="#000" stroke-width="0.8"/>
<rect x="491.51" y="150.5" width="1.9" height="0.8" fill="#000"/>
<line x1="494.91" y1="148.3" x2="494.91" y2="155.9" stroke="#000" stroke-width="0.8"/>
<rect x="493.96" y="151.3" width="1.9" height="3.8" fill="#000"/>
<line x1="497.36" y1="152.8" x2="497.36" y2="158.2" stroke="#000" stroke-width="0.8"/>
<rect x="496.41" y="154.4" width="1.9" height="1.5" fill="#000"/>
<line x1="499.82" y1="152.0" x2="499.82" y2="156.7" stroke="#000" stroke-width="0.8"/>
<rect x="499.17" y="152.4" width="1.30" height="3.2" fill="#9a9a9a" stroke="#000" stroke-width="0.6"/>
<line x1="502.27" y1="153.0" x2="502.27" y2="172.0" stroke="#000" stroke-width="0.8"/>
<rect x="501.32" y="153.6" width="1.9" height="17.5" fill="#000"/>
<line x1="504.72" y1="157.0" x2="504.72" y2="168.5" stroke="#000" stroke-width="0.8"/>
<rect x="503.77" y="157.4" width="1.9" height="10.6" fill="#000"/>
<line x1="507.17" y1="165.0" x2="507.17" y2="169.6" stroke="#000" stroke-width="0.8"/>
<rect x="506.52" y="166.9" width="1.30" height="0.4" fill="#9a9a9a" stroke="#000" stroke-width="0.6"/>
<line x1="509.63" y1="160.4" x2="509.63" y2="168.0" stroke="#000" stroke-width="0.8"/>
<rect x="508.98" y="161.5" width="1.30" height="5.5" fill="#9a9a9a" stroke="#000" stroke-width="0.6"/>
<line x1="512.08" y1="155.9" x2="512.08" y2="165.0" stroke="#000" stroke-width="0.8"/>
<rect x="511.43" y="157.7" width="1.30" height="6.2" fill="#9a9a9a" stroke="#000" stroke-width="0.6"/>
<line x1="514.53" y1="156.0" x2="514.53" y2="164.2" stroke="#000" stroke-width="0.8"/>
<rect x="513.88" y="156.9" width="1.30" height="7.0" fill="#9a9a9a" stroke="#000" stroke-width="0.6"/>
<line x1="516.98" y1="153.5" x2="516.98" y2="163.0" stroke="#000" stroke-width="0.8"/>
<rect x="516.33" y="154.7" width="1.30" height="7.7" fill="#9a9a9a" stroke="#000" stroke-width="0.6"/>
<line x1="519.44" y1="152.8" x2="519.44" y2="158.2" stroke="#000" stroke-width="0.8"/>
<rect x="518.79" y="153.9" width="1.30" height="3.2" fill="#9a9a9a" stroke="#000" stroke-width="0.6"/>
<line x1="521.89" y1="148.3" x2="521.89" y2="156.6" stroke="#000" stroke-width="0.8"/>
<rect x="521.24" y="150.1" width="1.30" height="5.5" fill="#9a9a9a" stroke="#000" stroke-width="0.6"/>
<line x1="524.34" y1="147.5" x2="524.34" y2="154.4" stroke="#000" stroke-width="0.8"/>
<rect x="523.39" y="149.8" width="1.9" height="3.0" fill="#000"/>
<line x1="526.79" y1="149.8" x2="526.79" y2="165.8" stroke="#000" stroke-width="0.8"/>
<rect x="525.84" y="150.5" width="1.9" height="13.7" fill="#000"/>
<line x1="529.24" y1="157.4" x2="529.24" y2="168.8" stroke="#000" stroke-width="0.8"/>
<rect x="528.59" y="160.0" width="1.30" height="5.5" fill="#9a9a9a" stroke="#000" stroke-width="0.6"/>
<line x1="531.70" y1="155.9" x2="531.70" y2="163.5" stroke="#000" stroke-width="0.8"/>
<rect x="531.05" y="157.7" width="1.30" height="4.0" fill="#9a9a9a" stroke="#000" stroke-width="0.6"/>
<line x1="534.15" y1="156.6" x2="534.15" y2="162.0" stroke="#000" stroke-width="0.8"/>
<rect x="533.20" y="157.4" width="1.9" height="3.8" fill="#000"/>
<line x1="536.60" y1="159.2" x2="536.60" y2="171.0" stroke="#000" stroke-width="0.8"/>
<rect x="535.65" y="160.0" width="1.9" height="10.6" fill="#000"/>
<line x1="539.05" y1="164.0" x2="539.05" y2="177.8" stroke="#000" stroke-width="0.8"/>
<rect x="538.40" y="165.2" width="1.30" height="4.0" fill="#9a9a9a" stroke="#000" stroke-width="0.6"/>
<line x1="541.51" y1="162.2" x2="541.51" y2="171.7" stroke="#000" stroke-width="0.8"/>
<rect x="540.56" y="164.9" width="1.9" height="4.9" fill="#000"/>
<line x1="543.96" y1="166.8" x2="543.96" y2="174.4" stroke="#000" stroke-width="0.8"/>
<rect x="543.01" y="167.6" width="1.9" height="5.3" fill="#000"/>
<line x1="546.41" y1="158.0" x2="546.41" y2="174.4" stroke="#000" stroke-width="0.8"/>
<rect x="545.76" y="169.3" width="1.30" height="3.7" fill="#9a9a9a" stroke="#000" stroke-width="0.6"/>
<line x1="548.86" y1="158.0" x2="548.86" y2="168.0" stroke="#000" stroke-width="0.8"/>
<rect x="548.21" y="158.8" width="1.30" height="8.5" fill="#9a9a9a" stroke="#000" stroke-width="0.6"/>
<line x1="551.32" y1="163.0" x2="551.32" y2="172.5" stroke="#000" stroke-width="0.8"/>
<rect x="550.37" y="164.1" width="1.9" height="8.4" fill="#000"/>
<line x1="553.77" y1="167.6" x2="553.77" y2="174.4" stroke="#000" stroke-width="0.8"/>
<rect x="553.12" y="169.0" width="1.30" height="4.0" fill="#9a9a9a" stroke="#000" stroke-width="0.6"/>
<line x1="556.22" y1="172.0" x2="556.22" y2="183.2" stroke="#000" stroke-width="0.8"/>
<rect x="555.27" y="172.5" width="1.9" height="6.9" fill="#000"/>
<line x1="558.67" y1="173.3" x2="558.67" y2="181.6" stroke="#000" stroke-width="0.8"/>
<rect x="557.72" y="174.4" width="1.9" height="5.3" fill="#000"/>
<line x1="561.12" y1="177.8" x2="561.12" y2="181.6" stroke="#000" stroke-width="0.8"/>
<rect x="560.17" y="179.4" width="1.9" height="0.7" fill="#000"/>
<line x1="563.58" y1="176.3" x2="563.58" y2="180.9" stroke="#000" stroke-width="0.8"/>
<rect x="562.93" y="178.8" width="1.30" height="0.1" fill="#9a9a9a" stroke="#000" stroke-width="0.6"/>
<line x1="566.03" y1="177.8" x2="566.03" y2="180.1" stroke="#000" stroke-width="0.8"/>
<rect x="565.38" y="178.8" width="1.30" height="0.1" fill="#9a9a9a" stroke="#000" stroke-width="0.6"/>
<line x1="568.48" y1="176.3" x2="568.48" y2="180.1" stroke="#000" stroke-width="0.8"/>
<rect x="567.83" y="177.8" width="1.30" height="0.5" fill="#9a9a9a" stroke="#000" stroke-width="0.6"/>
<line x1="570.93" y1="167.9" x2="570.93" y2="179.4" stroke="#000" stroke-width="0.8"/>
<rect x="570.28" y="169.8" width="1.30" height="8.5" fill="#9a9a9a" stroke="#000" stroke-width="0.6"/>
<line x1="573.39" y1="168.0" x2="573.39" y2="178.6" stroke="#000" stroke-width="0.8"/>
<rect x="572.44" y="169.5" width="1.9" height="8.3" fill="#000"/>
<line x1="575.84" y1="175.5" x2="575.84" y2="187.5" stroke="#000" stroke-width="0.8"/>
<rect x="574.89" y="176.3" width="1.9" height="10.7" fill="#000"/>
<line x1="578.29" y1="184.5" x2="578.29" y2="188.4" stroke="#000" stroke-width="0.8"/>
<rect x="577.34" y="185.4" width="1.9" height="2.3" fill="#000"/>
<line x1="580.74" y1="184.7" x2="580.74" y2="188.5" stroke="#000" stroke-width="0.8"/>
<rect x="579.79" y="186.2" width="1.9" height="1.5" fill="#000"/>
<line x1="583.20" y1="183.0" x2="583.20" y2="196.0" stroke="#000" stroke-width="0.8"/>
<rect x="582.25" y="184.0" width="1.9" height="11.3" fill="#000"/>
<line x1="585.65" y1="186.4" x2="585.65" y2="201.6" stroke="#000" stroke-width="0.8"/>
<rect x="585.00" y="188.3" width="1.30" height="5.4" fill="#9a9a9a" stroke="#000" stroke-width="0.6"/>
<line x1="588.10" y1="185.0" x2="588.10" y2="195.0" stroke="#000" stroke-width="0.8"/>
<rect x="587.15" y="185.7" width="1.9" height="9.1" fill="#000"/>
<line x1="590.55" y1="192.5" x2="590.55" y2="206.2" stroke="#000" stroke-width="0.8"/>
<rect x="589.60" y="193.3" width="1.9" height="5.3" fill="#000"/>
<line x1="593.00" y1="192.5" x2="593.00" y2="203.2" stroke="#000" stroke-width="0.8"/>
<rect x="592.05" y="194.8" width="1.9" height="6.8" fill="#000"/>
<line x1="595.46" y1="196.3" x2="595.46" y2="212.3" stroke="#000" stroke-width="0.8"/>
<rect x="594.51" y="197.8" width="1.9" height="5.4" fill="#000"/>
<line x1="597.91" y1="194.0" x2="597.91" y2="205.5" stroke="#000" stroke-width="0.8"/>
<rect x="597.26" y="195.1" width="1.30" height="9.3" fill="#9a9a9a" stroke="#000" stroke-width="0.6"/>
<line x1="600.36" y1="202.4" x2="600.36" y2="216.1" stroke="#000" stroke-width="0.8"/>
<rect x="599.41" y="203.2" width="1.9" height="4.5" fill="#000"/>
<line x1="602.81" y1="205.0" x2="602.81" y2="210.0" stroke="#000" stroke-width="0.8"/>
<rect x="602.16" y="206.5" width="1.30" height="0.9" fill="#9a9a9a" stroke="#000" stroke-width="0.6"/>
<line x1="605.27" y1="201.6" x2="605.27" y2="220.7" stroke="#000" stroke-width="0.8"/>
<rect x="604.32" y="203.2" width="1.9" height="10.6" fill="#000"/>
<line x1="607.72" y1="203.0" x2="607.72" y2="214.5" stroke="#000" stroke-width="0.8"/>
<rect x="607.07" y="204.3" width="1.30" height="8.4" fill="#9a9a9a" stroke="#000" stroke-width="0.6"/>
<line x1="610.17" y1="195.5" x2="610.17" y2="211.0" stroke="#000" stroke-width="0.8"/>
<rect x="609.22" y="203.9" width="1.9" height="6.1" fill="#000"/>
<line x1="612.62" y1="208.0" x2="612.62" y2="214.5" stroke="#000" stroke-width="0.8"/>
<rect x="611.67" y="209.2" width="1.9" height="4.6" fill="#000"/>
<line x1="615.08" y1="210.8" x2="615.08" y2="216.1" stroke="#000" stroke-width="0.8"/>
<rect x="614.12" y="212.3" width="1.9" height="1.5" fill="#000"/>
<line x1="617.53" y1="211.5" x2="617.53" y2="216.5" stroke="#000" stroke-width="0.8"/>
<rect x="616.58" y="212.3" width="1.9" height="3.8" fill="#000"/>
<line x1="619.98" y1="215.0" x2="619.98" y2="220.0" stroke="#000" stroke-width="0.8"/>
<rect x="619.03" y="215.3" width="1.9" height="3.8" fill="#000"/>
<line x1="622.43" y1="214.5" x2="622.43" y2="220.0" stroke="#000" stroke-width="0.8"/>
<rect x="621.78" y="215.6" width="1.30" height="3.2" fill="#9a9a9a" stroke="#000" stroke-width="0.6"/>
<line x1="624.88" y1="215.3" x2="624.88" y2="219.1" stroke="#000" stroke-width="0.8"/>
<rect x="623.93" y="217.0" width="1.9" height="1.5" fill="#000"/>
<line x1="627.34" y1="216.0" x2="627.34" y2="219.5" stroke="#000" stroke-width="0.8"/>
<rect x="626.39" y="216.9" width="1.9" height="2.2" fill="#000"/>
<line x1="629.79" y1="213.0" x2="629.79" y2="219.5" stroke="#000" stroke-width="0.8"/>
<rect x="629.14" y="214.1" width="1.30" height="4.7" fill="#9a9a9a" stroke="#000" stroke-width="0.6"/>
<line x1="632.24" y1="211.0" x2="632.24" y2="217.0" stroke="#000" stroke-width="0.8"/>
<rect x="631.59" y="213.6" width="1.30" height="1.1" fill="#9a9a9a" stroke="#000" stroke-width="0.6"/>
<line x1="634.69" y1="209.0" x2="634.69" y2="214.3" stroke="#000" stroke-width="0.8"/>
<rect x="633.74" y="209.8" width="1.9" height="3.9" fill="#000"/>
<line x1="637.15" y1="209.8" x2="637.15" y2="215.0" stroke="#000" stroke-width="0.8"/>
<rect x="636.50" y="210.7" width="1.30" height="3.3" fill="#9a9a9a" stroke="#000" stroke-width="0.6"/>
<line x1="639.60" y1="209.8" x2="639.60" y2="211.7" stroke="#000" stroke-width="0.8"/>
<rect x="638.65" y="210.4" width="1.9" height="0.7" fill="#000"/>
<line x1="642.05" y1="203.9" x2="642.05" y2="211.1" stroke="#000" stroke-width="0.8"/>
<rect x="641.40" y="205.5" width="1.30" height="4.6" fill="#9a9a9a" stroke="#000" stroke-width="0.6"/>
<line x1="644.50" y1="202.5" x2="644.50" y2="211.0" stroke="#000" stroke-width="0.8"/>
<rect x="643.55" y="204.6" width="1.9" height="5.8" fill="#000"/>
<line x1="646.95" y1="206.5" x2="646.95" y2="219.0" stroke="#000" stroke-width="0.8"/>
<rect x="646.00" y="207.2" width="1.9" height="11.0" fill="#000"/>
<line x1="649.41" y1="217.0" x2="649.41" y2="228.0" stroke="#000" stroke-width="0.8"/>
<rect x="648.46" y="218.2" width="1.9" height="4.0" fill="#000"/>
<line x1="651.86" y1="215.5" x2="651.86" y2="224.5" stroke="#000" stroke-width="0.8"/>
<rect x="651.21" y="216.6" width="1.30" height="7.2" fill="#9a9a9a" stroke="#000" stroke-width="0.6"/>
<line x1="654.31" y1="220.8" x2="654.31" y2="231.0" stroke="#000" stroke-width="0.8"/>
<rect x="653.36" y="221.5" width="1.9" height="8.5" fill="#000"/>
<line x1="656.76" y1="228.0" x2="656.76" y2="236.0" stroke="#000" stroke-width="0.8"/>
<rect x="655.81" y="228.7" width="1.9" height="6.5" fill="#000"/>
<line x1="659.22" y1="225.0" x2="659.22" y2="240.4" stroke="#000" stroke-width="0.8"/>
<rect x="658.27" y="232.0" width="1.9" height="2.5" fill="#000"/>
<line x1="661.67" y1="222.2" x2="661.67" y2="235.2" stroke="#000" stroke-width="0.8"/>
<rect x="661.02" y="223.1" width="1.30" height="11.1" fill="#9a9a9a" stroke="#000" stroke-width="0.6"/>
<line x1="664.12" y1="207.8" x2="664.12" y2="224.8" stroke="#000" stroke-width="0.8"/>
<rect x="663.47" y="208.8" width="1.30" height="15.0" fill="#9a9a9a" stroke="#000" stroke-width="0.6"/>
<line x1="666.57" y1="203.3" x2="666.57" y2="210.0" stroke="#000" stroke-width="0.8"/>
<rect x="665.92" y="208.3" width="1.30" height="0.5" fill="#9a9a9a" stroke="#000" stroke-width="0.6"/>
<line x1="669.03" y1="197.4" x2="669.03" y2="209.1" stroke="#000" stroke-width="0.8"/>
<rect x="668.38" y="200.3" width="1.30" height="7.9" fill="#9a9a9a" stroke="#000" stroke-width="0.6"/>
<line x1="671.48" y1="199.3" x2="671.48" y2="206.5" stroke="#000" stroke-width="0.8"/>
<rect x="670.53" y="199.3" width="1.9" height="7.2" fill="#000"/>
<line x1="673.93" y1="205.0" x2="673.93" y2="211.0" stroke="#000" stroke-width="0.8"/>
<rect x="672.98" y="205.9" width="1.9" height="4.5" fill="#000"/>
<line x1="676.38" y1="208.5" x2="676.38" y2="213.5" stroke="#000" stroke-width="0.8"/>
<rect x="675.43" y="209.1" width="1.9" height="3.9" fill="#000"/>
<line x1="678.83" y1="210.0" x2="678.83" y2="214.0" stroke="#000" stroke-width="0.8"/>
<rect x="677.88" y="210.4" width="1.9" height="3.3" fill="#000"/>
<line x1="681.29" y1="205.2" x2="681.29" y2="212.4" stroke="#000" stroke-width="0.8"/>
<rect x="680.64" y="207.5" width="1.30" height="3.2" fill="#9a9a9a" stroke="#000" stroke-width="0.6"/>
<line x1="683.74" y1="205.2" x2="683.74" y2="209.1" stroke="#000" stroke-width="0.8"/>
<rect x="682.79" y="206.5" width="1.9" height="1.3" fill="#000"/>
<line x1="686.19" y1="206.0" x2="686.19" y2="212.0" stroke="#000" stroke-width="0.8"/>
<rect x="685.24" y="206.5" width="1.9" height="5.2" fill="#000"/>
<line x1="688.64" y1="211.0" x2="688.64" y2="221.0" stroke="#000" stroke-width="0.8"/>
<rect x="687.69" y="211.7" width="1.9" height="9.2" fill="#000"/>
<line x1="691.10" y1="213.7" x2="691.10" y2="221.5" stroke="#000" stroke-width="0.8"/>
<rect x="690.15" y="213.7" width="1.9" height="7.2" fill="#000"/>
<line x1="693.55" y1="218.5" x2="693.55" y2="223.0" stroke="#000" stroke-width="0.8"/>
<rect x="692.60" y="219.0" width="1.9" height="3.8" fill="#000"/>
<line x1="696.00" y1="220.0" x2="696.00" y2="226.0" stroke="#000" stroke-width="0.8"/>
<rect x="695.05" y="220.2" width="1.9" height="5.2" fill="#000"/>
<line x1="1" y1="75.35" x2="875" y2="75.35" stroke="#ff0000" stroke-width="1.35"/>
<line x1="1" y1="157.4" x2="875" y2="157.4" stroke="#ff0000" stroke-width="1.35"/>
<line x1="1" y1="234.3" x2="875" y2="234.3" stroke="#ff0000" stroke-width="1.35"/>
<line x1="1" y1="354.0" x2="875" y2="354.0" stroke="#ff0000" stroke-width="1.35"/>
<line x1="1" y1="225.5" x2="875" y2="225.5" stroke="#c0c0c0" stroke-width="0.8"/>
<line x1="1.5" y1="115.3" x2="428.7" y2="192.3" stroke="#ff0000" stroke-width="1.3"/>
<rect x="0" y="0" width="900" height="1" fill="#fff"/>
<line x1="1.5" y1="1" x2="1.5" y2="447" stroke="#505050" stroke-width="1"/>
<line x1="1" y1="1.5" x2="876" y2="1.5" stroke="#505050" stroke-width="1"/>
<line x1="875.5" y1="1" x2="875.5" y2="447" stroke="#707070" stroke-width="1"/>
<rect x="1" y="357.6" width="875" height="1" fill="#cccccc"/>
<rect x="1" y="358.6" width="875" height="1" fill="#8c8c8c"/>
<rect x="1" y="359.6" width="875" height="1.3" fill="#454545"/>
<line x1="1" y1="447.5" x2="876" y2="447.5" stroke="#353535" stroke-width="1"/>
<rect x="873.9" y="33.5" width="2.4" height="71.3" fill="#000"/>
<line x1="2.00" y1="400.1" x2="2.00" y2="414.8" stroke="#bcbcbc" stroke-width="1.7"/>
<line x1="4.45" y1="400.1" x2="4.45" y2="417.7" stroke="#bcbcbc" stroke-width="1.7"/>
<line x1="6.90" y1="400.1" x2="6.90" y2="419.7" stroke="#bcbcbc" stroke-width="1.7"/>
<line x1="9.36" y1="400.1" x2="9.36" y2="421.2" stroke="#bcbcbc" stroke-width="1.7"/>
<line x1="11.81" y1="400.1" x2="11.81" y2="422.7" stroke="#bcbcbc" stroke-width="1.7"/>
<line x1="14.26" y1="400.1" x2="14.26" y2="424.2" stroke="#bcbcbc" stroke-width="1.7"/>
<line x1="16.71" y1="400.1" x2="16.71" y2="423.7" stroke="#bcbcbc" stroke-width="1.7"/>
<line x1="19.17" y1="400.1" x2="19.17" y2="423.3" stroke="#bcbcbc" stroke-width="1.7"/>
<line x1="21.62" y1="400.1" x2="21.62" y2="422.8" stroke="#bcbcbc" stroke-width="1.7"/>
<line x1="24.07" y1="400.1" x2="24.07" y2="422.8" stroke="#bcbcbc" stroke-width="1.7"/>
<line x1="26.52" y1="400.1" x2="26.52" y2="423.3" stroke="#bcbcbc" stroke-width="1.7"/>
<line x1="28.98" y1="400.1" x2="28.98" y2="423.7" stroke="#bcbcbc" stroke-width="1.7"/>
<line x1="31.43" y1="400.1" x2="31.43" y2="424.1" stroke="#bcbcbc" stroke-width="1.7"/>
<line x1="33.88" y1="400.1" x2="33.88" y2="424.2" stroke="#bcbcbc" stroke-width="1.7"/>
<line x1="36.33" y1="400.1" x2="36.33" y2="424.2" stroke="#bcbcbc" stroke-width="1.7"/>
<line x1="38.78" y1="400.1" x2="38.78" y2="424.2" stroke="#bcbcbc" stroke-width="1.7"/>
<line x1="41.24" y1="400.1" x2="41.24" y2="425.7" stroke="#bcbcbc" stroke-width="1.7"/>
<line x1="43.69" y1="400.1" x2="43.69" y2="427.9" stroke="#bcbcbc" stroke-width="1.7"/>
<line x1="46.14" y1="400.1" x2="46.14" y2="430.1" stroke="#bcbcbc" stroke-width="1.7"/>
<line x1="48.59" y1="400.1" x2="48.59" y2="432.2" stroke="#bcbcbc" stroke-width="1.7"/>
<line x1="51.05" y1="400.1" x2="51.05" y2="434.2" stroke="#bcbcbc" stroke-width="1.7"/>
<line x1="53.50" y1="400.1" x2="53.50" y2="436.2" stroke="#bcbcbc" stroke-width="1.7"/>
<line x1="55.95" y1="400.1" x2="55.95" y2="436.7" stroke="#bcbcbc" stroke-width="1.7"/>
<line x1="58.40" y1="400.1" x2="58.40" y2="436.4" stroke="#bcbcbc" stroke-width="1.7"/>
<line x1="60.86" y1="400.1" x2="60.86" y2="436.1" stroke="#bcbcbc" stroke-width="1.7"/>
<line x1="63.31" y1="400.1" x2="63.31" y2="435.0" stroke="#bcbcbc" stroke-width="1.7"/>
<line x1="65.76" y1="400.1" x2="65.76" y2="433.0" stroke="#bcbcbc" stroke-width="1.7"/>
<line x1="68.21" y1="400.1" x2="68.21" y2="431.0" stroke="#bcbcbc" stroke-width="1.7"/>
<line x1="70.66" y1="400.1" x2="70.66" y2="429.0" stroke="#bcbcbc" stroke-width="1.7"/>
<line x1="73.12" y1="400.1" x2="73.12" y2="427.0" stroke="#bcbcbc" stroke-width="1.7"/>
<line x1="75.57" y1="400.1" x2="75.57" y2="425.8" stroke="#bcbcbc" stroke-width="1.7"/>
<line x1="78.02" y1="400.1" x2="78.02" y2="426.7" stroke="#bcbcbc" stroke-width="1.7"/>
<line x1="80.47" y1="400.1" x2="80.47" y2="427.5" stroke="#bcbcbc" stroke-width="1.7"/>
<line x1="82.93" y1="400.1" x2="82.93" y2="426.7" stroke="#bcbcbc" stroke-width="1.7"/>
<line x1="85.38" y1="400.1" x2="85.38" y2="424.5" stroke="#bcbcbc" stroke-width="1.7"/>
<line x1="87.83" y1="400.1" x2="87.83" y2="422.3" stroke="#bcbcbc" stroke-width="1.7"/>
<line x1="90.28" y1="400.1" x2="90.28" y2="419.9" stroke="#bcbcbc" stroke-width="1.7"/>
<line x1="92.74" y1="400.1" x2="92.74" y2="417.1" stroke="#bcbcbc" stroke-width="1.7"/>
<line x1="95.19" y1="400.1" x2="95.19" y2="414.3" stroke="#bcbcbc" stroke-width="1.7"/>
<line x1="97.64" y1="400.1" x2="97.64" y2="411.5" stroke="#bcbcbc" stroke-width="1.7"/>
<line x1="100.09" y1="400.1" x2="100.09" y2="408.7" stroke="#bcbcbc" stroke-width="1.7"/>
<line x1="102.54" y1="400.1" x2="102.54" y2="406.0" stroke="#bcbcbc" stroke-width="1.7"/>
<line x1="105.00" y1="400.1" x2="105.00" y2="403.2" stroke="#bcbcbc" stroke-width="1.7"/>
<line x1="107.45" y1="400.1" x2="107.45" y2="400.4" stroke="#bcbcbc" stroke-width="1.7"/>
<line x1="109.90" y1="398.7" x2="109.90" y2="400.1" stroke="#bcbcbc" stroke-width="1.7"/>
<line x1="112.35" y1="399.0" x2="112.35" y2="400.1" stroke="#bcbcbc" stroke-width="1.7"/>
<line x1="114.81" y1="400.1" x2="114.81" y2="401.2" stroke="#bcbcbc" stroke-width="1.7"/>
<line x1="117.26" y1="400.1" x2="117.26" y2="404.1" stroke="#bcbcbc" stroke-width="1.7"/>
<line x1="119.71" y1="400.1" x2="119.71" y2="406.3" stroke="#bcbcbc" stroke-width="1.7"/>
<line x1="122.16" y1="400.1" x2="122.16" y2="407.3" stroke="#bcbcbc" stroke-width="1.7"/>
<line x1="124.62" y1="400.1" x2="124.62" y2="408.3" stroke="#bcbcbc" stroke-width="1.7"/>
<line x1="127.07" y1="400.1" x2="127.07" y2="409.3" stroke="#bcbcbc" stroke-width="1.7"/>
<line x1="129.52" y1="400.1" x2="129.52" y2="411.2" stroke="#bcbcbc" stroke-width="1.7"/>
<line x1="131.97" y1="400.1" x2="131.97" y2="414.9" stroke="#bcbcbc" stroke-width="1.7"/>
<line x1="134.42" y1="400.1" x2="134.42" y2="418.5" stroke="#bcbcbc" stroke-width="1.7"/>
<line x1="136.88" y1="400.1" x2="136.88" y2="425.7" stroke="#bcbcbc" stroke-width="1.7"/>
<line x1="139.33" y1="400.1" x2="139.33" y2="432.2" stroke="#bcbcbc" stroke-width="1.7"/>
<line x1="141.78" y1="400.1" x2="141.78" y2="437.1" stroke="#bcbcbc" stroke-width="1.7"/>
<line x1="144.23" y1="400.1" x2="144.23" y2="442.0" stroke="#bcbcbc" stroke-width="1.7"/>
<line x1="146.69" y1="400.1" x2="146.69" y2="442.9" stroke="#bcbcbc" stroke-width="1.7"/>
<line x1="149.14" y1="400.1" x2="149.14" y2="442.4" stroke="#bcbcbc" stroke-width="1.7"/>
<line x1="151.59" y1="400.1" x2="151.59" y2="441.2" stroke="#bcbcbc" stroke-width="1.7"/>
<line x1="154.04" y1="400.1" x2="154.04" y2="439.9" stroke="#bcbcbc" stroke-width="1.7"/>
<line x1="156.49" y1="400.1" x2="156.49" y2="438.7" stroke="#bcbcbc" stroke-width="1.7"/>
<line x1="158.95" y1="400.1" x2="158.95" y2="437.5" stroke="#bcbcbc" stroke-width="1.7"/>
<line x1="161.40" y1="400.1" x2="161.40" y2="435.5" stroke="#bcbcbc" stroke-width="1.7"/>
<line x1="163.85" y1="400.1" x2="163.85" y2="433.5" stroke="#bcbcbc" stroke-width="1.7"/>
<line x1="166.30" y1="400.1" x2="166.30" y2="431.4" stroke="#bcbcbc" stroke-width="1.7"/>
<line x1="168.76" y1="400.1" x2="168.76" y2="429.4" stroke="#bcbcbc" stroke-width="1.7"/>
<line x1="171.21" y1="400.1" x2="171.21" y2="427.3" stroke="#bcbcbc" stroke-width="1.7"/>
<line x1="173.66" y1="400.1" x2="173.66" y2="424.9" stroke="#bcbcbc" stroke-width="1.7"/>
<line x1="176.11" y1="400.1" x2="176.11" y2="422.4" stroke="#bcbcbc" stroke-width="1.7"/>
<line x1="178.57" y1="400.1" x2="178.57" y2="420.0" stroke="#bcbcbc" stroke-width="1.7"/>
<line x1="181.02" y1="400.1" x2="181.02" y2="417.5" stroke="#bcbcbc" stroke-width="1.7"/>
<line x1="183.47" y1="400.1" x2="183.47" y2="416.1" stroke="#bcbcbc" stroke-width="1.7"/>
<line x1="185.92" y1="400.1" x2="185.92" y2="415.1" stroke="#bcbcbc" stroke-width="1.7"/>
<line x1="188.37" y1="400.1" x2="188.37" y2="414.1" stroke="#bcbcbc" stroke-width="1.7"/>
<line x1="190.83" y1="400.1" x2="190.83" y2="412.9" stroke="#bcbcbc" stroke-width="1.7"/>
<line x1="193.28" y1="400.1" x2="193.28" y2="408.1" stroke="#bcbcbc" stroke-width="1.7"/>
<line x1="195.73" y1="400.1" x2="195.73" y2="403.4" stroke="#bcbcbc" stroke-width="1.7"/>
<line x1="198.18" y1="398.6" x2="198.18" y2="400.1" stroke="#bcbcbc" stroke-width="1.7"/>
<line x1="200.64" y1="394.5" x2="200.64" y2="400.1" stroke="#bcbcbc" stroke-width="1.7"/>
<line x1="203.09" y1="391.1" x2="203.09" y2="400.1" stroke="#bcbcbc" stroke-width="1.7"/>
<line x1="205.54" y1="387.7" x2="205.54" y2="400.1" stroke="#bcbcbc" stroke-width="1.7"/>
<line x1="207.99" y1="384.3" x2="207.99" y2="400.1" stroke="#bcbcbc" stroke-width="1.7"/>
<line x1="210.45" y1="383.6" x2="210.45" y2="400.1" stroke="#bcbcbc" stroke-width="1.7"/>
<line x1="212.90" y1="383.4" x2="212.90" y2="400.1" stroke="#bcbcbc" stroke-width="1.7"/>
<line x1="215.35" y1="383.0" x2="215.35" y2="400.1" stroke="#bcbcbc" stroke-width="1.7"/>
<line x1="217.80" y1="382.0" x2="217.80" y2="400.1" stroke="#bcbcbc" stroke-width="1.7"/>
<line x1="220.25" y1="381.0" x2="220.25" y2="400.1" stroke="#bcbcbc" stroke-width="1.7"/>
<line x1="222.71" y1="380.1" x2="222.71" y2="400.1" stroke="#bcbcbc" stroke-width="1.7"/>
<line x1="225.16" y1="379.6" x2="225.16" y2="400.1" stroke="#bcbcbc" stroke-width="1.7"/>
<line x1="227.61" y1="379.6" x2="227.61" y2="400.1" stroke="#bcbcbc" stroke-width="1.7"/>
<line x1="230.06" y1="380.7" x2="230.06" y2="400.1" stroke="#bcbcbc" stroke-width="1.7"/>
<line x1="232.52" y1="382.7" x2="232.52" y2="400.1" stroke="#bcbcbc" stroke-width="1.7"/>
<line x1="234.97" y1="385.0" x2="234.97" y2="400.1" stroke="#bcbcbc" stroke-width="1.7"/>
<line x1="237.42" y1="389.1" x2="237.42" y2="400.1" stroke="#bcbcbc" stroke-width="1.7"/>
<line x1="239.87" y1="393.2" x2="239.87" y2="400.1" stroke="#bcbcbc" stroke-width="1.7"/>
<line x1="242.33" y1="397.2" x2="242.33" y2="400.1" stroke="#bcbcbc" stroke-width="1.7"/>
<line x1="244.78" y1="400.1" x2="244.78" y2="401.3" stroke="#bcbcbc" stroke-width="1.7"/>
<line x1="247.23" y1="400.1" x2="247.23" y2="405.3" stroke="#bcbcbc" stroke-width="1.7"/>
<line x1="249.68" y1="400.1" x2="249.68" y2="409.3" stroke="#bcbcbc" stroke-width="1.7"/>
<line x1="252.13" y1="400.1" x2="252.13" y2="412.3" stroke="#bcbcbc" stroke-width="1.7"/>
<line x1="254.59" y1="400.1" x2="254.59" y2="413.3" stroke="#bcbcbc" stroke-width="1.7"/>
<line x1="257.04" y1="400.1" x2="257.04" y2="414.4" stroke="#bcbcbc" stroke-width="1.7"/>
<line x1="259.49" y1="400.1" x2="259.49" y2="415.3" stroke="#bcbcbc" stroke-width="1.7"/>
<line x1="261.94" y1="400.1" x2="261.94" y2="416.2" stroke="#bcbcbc" stroke-width="1.7"/>
<line x1="264.40" y1="400.1" x2="264.40" y2="417.1" stroke="#bcbcbc" stroke-width="1.7"/>
<line x1="266.85" y1="400.1" x2="266.85" y2="417.3" stroke="#bcbcbc" stroke-width="1.7"/>
<line x1="269.30" y1="400.1" x2="269.30" y2="417.3" stroke="#bcbcbc" stroke-width="1.7"/>
<line x1="271.75" y1="400.1" x2="271.75" y2="417.3" stroke="#bcbcbc" stroke-width="1.7"/>
<line x1="274.21" y1="400.1" x2="274.21" y2="417.3" stroke="#bcbcbc" stroke-width="1.7"/>
<line x1="276.66" y1="400.1" x2="276.66" y2="416.7" stroke="#bcbcbc" stroke-width="1.7"/>
<line x1="279.11" y1="400.1" x2="279.11" y2="415.1" stroke="#bcbcbc" stroke-width="1.7"/>
<line x1="281.56" y1="400.1" x2="281.56" y2="413.5" stroke="#bcbcbc" stroke-width="1.7"/>
<line x1="284.01" y1="400.1" x2="284.01" y2="411.6" stroke="#bcbcbc" stroke-width="1.7"/>
<line x1="286.47" y1="400.1" x2="286.47" y2="409.5" stroke="#bcbcbc" stroke-width="1.7"/>
<line x1="288.92" y1="400.1" x2="288.92" y2="407.4" stroke="#bcbcbc" stroke-width="1.7"/>
<line x1="291.37" y1="400.1" x2="291.37" y2="408.3" stroke="#bcbcbc" stroke-width="1.7"/>
<line x1="293.82" y1="400.1" x2="293.82" y2="409.9" stroke="#bcbcbc" stroke-width="1.7"/>
<line x1="296.28" y1="400.1" x2="296.28" y2="411.6" stroke="#bcbcbc" stroke-width="1.7"/>
<line x1="298.73" y1="400.1" x2="298.73" y2="413.0" stroke="#bcbcbc" stroke-width="1.7"/>
<line x1="301.18" y1="400.1" x2="301.18" y2="414.2" stroke="#bcbcbc" stroke-width="1.7"/>
<line x1="303.63" y1="400.1" x2="303.63" y2="415.4" stroke="#bcbcbc" stroke-width="1.7"/>
<line x1="306.09" y1="400.1" x2="306.09" y2="414.2" stroke="#bcbcbc" stroke-width="1.7"/>
<line x1="308.54" y1="400.1" x2="308.54" y2="412.0" stroke="#bcbcbc" stroke-width="1.7"/>
<line x1="310.99" y1="400.1" x2="310.99" y2="406.6" stroke="#bcbcbc" stroke-width="1.7"/>
<line x1="313.44" y1="400.1" x2="313.44" y2="400.1" stroke="#bcbcbc" stroke-width="1.7"/>
<line x1="315.89" y1="394.7" x2="315.89" y2="400.1" stroke="#bcbcbc" stroke-width="1.7"/>
<line x1="318.35" y1="389.8" x2="318.35" y2="400.1" stroke="#bcbcbc" stroke-width="1.7"/>
<line x1="320.80" y1="386.9" x2="320.80" y2="400.1" stroke="#bcbcbc" stroke-width="1.7"/>
<line x1="323.25" y1="384.8" x2="323.25" y2="400.1" stroke="#bcbcbc" stroke-width="1.7"/>
<line x1="325.70" y1="382.7" x2="325.70" y2="400.1" stroke="#bcbcbc" stroke-width="1.7"/>
<line x1="328.16" y1="382.0" x2="328.16" y2="400.1" stroke="#bcbcbc" stroke-width="1.7"/>
<line x1="330.61" y1="381.4" x2="330.61" y2="400.1" stroke="#bcbcbc" stroke-width="1.7"/>
<line x1="333.06" y1="380.7" x2="333.06" y2="400.1" stroke="#bcbcbc" stroke-width="1.7"/>
<line x1="335.51" y1="379.5" x2="335.51" y2="400.1" stroke="#bcbcbc" stroke-width="1.7"/>
<line x1="337.97" y1="378.3" x2="337.97" y2="400.1" stroke="#bcbcbc" stroke-width="1.7"/>
<line x1="340.42" y1="377.1" x2="340.42" y2="400.1" stroke="#bcbcbc" stroke-width="1.7"/>
<line x1="342.87" y1="375.9" x2="342.87" y2="400.1" stroke="#bcbcbc" stroke-width="1.7"/>
<line x1="345.32" y1="374.8" x2="345.32" y2="400.1" stroke="#bcbcbc" stroke-width="1.7"/>
<line x1="347.77" y1="374.0" x2="347.77" y2="400.1" stroke="#bcbcbc" stroke-width="1.7"/>
<line x1="350.23" y1="373.1" x2="350.23" y2="400.1" stroke="#bcbcbc" stroke-width="1.7"/>
<line x1="352.68" y1="372.3" x2="352.68" y2="400.1" stroke="#bcbcbc" stroke-width="1.7"/>
<line x1="355.13" y1="371.4" x2="355.13" y2="400.1" stroke="#bcbcbc" stroke-width="1.7"/>
<line x1="357.58" y1="372.0" x2="357.58" y2="400.1" stroke="#bcbcbc" stroke-width="1.7"/>
<line x1="360.04" y1="372.7" x2="360.04" y2="400.1" stroke="#bcbcbc" stroke-width="1.7"/>
<line x1="362.49" y1="374.3" x2="362.49" y2="400.1" stroke="#bcbcbc" stroke-width="1.7"/>
<line x1="364.94" y1="375.9" x2="364.94" y2="400.1" stroke="#bcbcbc" stroke-width="1.7"/>
<line x1="367.39" y1="377.5" x2="367.39" y2="400.1" stroke="#bcbcbc" stroke-width="1.7"/>
<line x1="369.85" y1="379.1" x2="369.85" y2="400.1" stroke="#bcbcbc" stroke-width="1.7"/>
<line x1="372.30" y1="379.2" x2="372.30" y2="400.1" stroke="#bcbcbc" stroke-width="1.7"/>
<line x1="374.75" y1="379.2" x2="374.75" y2="400.1" stroke="#bcbcbc" stroke-width="1.7"/>
<line x1="377.20" y1="379.2" x2="377.20" y2="400.1" stroke="#bcbcbc" stroke-width="1.7"/>
<line x1="379.65" y1="379.0" x2="379.65" y2="400.1" stroke="#bcbcbc" stroke-width="1.7"/>
<line x1="382.11" y1="378.6" x2="382.11" y2="400.1" stroke="#bcbcbc" stroke-width="1.7"/>
<line x1="384.56" y1="378.1" x2="384.56" y2="400.1" stroke="#bcbcbc" stroke-width="1.7"/>
<line x1="387.01" y1="377.7" x2="387.01" y2="400.1" stroke="#bcbcbc" stroke-width="1.7"/>
<line x1="389.46" y1="377.2" x2="389.46" y2="400.1" stroke="#bcbcbc" stroke-width="1.7"/>
<line x1="391.92" y1="375.8" x2="391.92" y2="400.1" stroke="#bcbcbc" stroke-width="1.7"/>
<line x1="394.37" y1="374.3" x2="394.37" y2="400.1" stroke="#bcbcbc" stroke-width="1.7"/>
<line x1="396.82" y1="372.9" x2="396.82" y2="400.1" stroke="#bcbcbc" stroke-width="1.7"/>
<line x1="399.27" y1="371.4" x2="399.27" y2="400.1" stroke="#bcbcbc" stroke-width="1.7"/>
<line x1="401.72" y1="372.1" x2="401.72" y2="400.1" stroke="#bcbcbc" stroke-width="1.7"/>
<line x1="404.18" y1="372.8" x2="404.18" y2="400.1" stroke="#bcbcbc" stroke-width="1.7"/>
<line x1="406.63" y1="373.5" x2="406.63" y2="400.1" stroke="#bcbcbc" stroke-width="1.7"/>
<line x1="409.08" y1="374.8" x2="409.08" y2="400.1" stroke="#bcbcbc" stroke-width="1.7"/>
<line x1="411.53" y1="376.1" x2="411.53" y2="400.1" stroke="#bcbcbc" stroke-width="1.7"/>
<line x1="413.99" y1="377.5" x2="413.99" y2="400.1" stroke="#bcbcbc" stroke-width="1.7"/>
<line x1="416.44" y1="378.7" x2="416.44" y2="400.1" stroke="#bcbcbc" stroke-width="1.7"/>
<line x1="418.89" y1="379.8" x2="418.89" y2="400.1" stroke="#bcbcbc" stroke-width="1.7"/>
<line x1="421.34" y1="380.9" x2="421.34" y2="400.1" stroke="#bcbcbc" stroke-width="1.7"/>
<line x1="423.80" y1="382.1" x2="423.80" y2="400.1" stroke="#bcbcbc" stroke-width="1.7"/>
<line x1="426.25" y1="381.9" x2="426.25" y2="400.1" stroke="#bcbcbc" stroke-width="1.7"/>
<line x1="428.70" y1="381.0" x2="428.70" y2="400.1" stroke="#bcbcbc" stroke-width="1.7"/>
<line x1="431.15" y1="380.1" x2="431.15" y2="400.1" stroke="#bcbcbc" stroke-width="1.7"/>
<line x1="433.60" y1="378.7" x2="433.60" y2="400.1" stroke="#bcbcbc" stroke-width="1.7"/>
<line x1="436.06" y1="376.6" x2="436.06" y2="400.1" stroke="#bcbcbc" stroke-width="1.7"/>
<line x1="438.51" y1="374.5" x2="438.51" y2="400.1" stroke="#bcbcbc" stroke-width="1.7"/>
<line x1="440.96" y1="373.3" x2="440.96" y2="400.1" stroke="#bcbcbc" stroke-width="1.7"/>
<line x1="443.41" y1="372.7" x2="443.41" y2="400.1" stroke="#bcbcbc" stroke-width="1.7"/>
<line x1="445.87" y1="372.1" x2="445.87" y2="400.1" stroke="#bcbcbc" stroke-width="1.7"/>
<line x1="448.32" y1="371.4" x2="448.32" y2="400.1" stroke="#bcbcbc" stroke-width="1.7"/>
<line x1="450.77" y1="370.3" x2="450.77" y2="400.1" stroke="#bcbcbc" stroke-width="1.7"/>
<line x1="453.22" y1="369.2" x2="453.22" y2="400.1" stroke="#bcbcbc" stroke-width="1.7"/>
<line x1="455.68" y1="368.1" x2="455.68" y2="400.1" stroke="#bcbcbc" stroke-width="1.7"/>
<line x1="458.13" y1="367.5" x2="458.13" y2="400.1" stroke="#bcbcbc" stroke-width="1.7"/>
<line x1="460.58" y1="366.9" x2="460.58" y2="400.1" stroke="#bcbcbc" stroke-width="1.7"/>
<line x1="463.03" y1="366.3" x2="463.03" y2="400.1" stroke="#bcbcbc" stroke-width="1.7"/>
<line x1="465.48" y1="365.7" x2="465.48" y2="400.1" stroke="#bcbcbc" stroke-width="1.7"/>
<line x1="467.94" y1="366.9" x2="467.94" y2="400.1" stroke="#bcbcbc" stroke-width="1.7"/>
<line x1="470.39" y1="368.8" x2="470.39" y2="400.1" stroke="#bcbcbc" stroke-width="1.7"/>
<line x1="472.84" y1="370.7" x2="472.84" y2="400.1" stroke="#bcbcbc" stroke-width="1.7"/>
<line x1="475.29" y1="374.7" x2="475.29" y2="400.1" stroke="#bcbcbc" stroke-width="1.7"/>
<line x1="477.75" y1="378.8" x2="477.75" y2="400.1" stroke="#bcbcbc" stroke-width="1.7"/>
<line x1="480.20" y1="382.8" x2="480.20" y2="400.1" stroke="#bcbcbc" stroke-width="1.7"/>
<line x1="482.65" y1="386.9" x2="482.65" y2="400.1" stroke="#bcbcbc" stroke-width="1.7"/>
<line x1="485.10" y1="390.9" x2="485.10" y2="400.1" stroke="#bcbcbc" stroke-width="1.7"/>
<line x1="487.56" y1="395.0" x2="487.56" y2="400.1" stroke="#bcbcbc" stroke-width="1.7"/>
<line x1="490.01" y1="399.0" x2="490.01" y2="400.1" stroke="#bcbcbc" stroke-width="1.7"/>
<line x1="492.46" y1="400.1" x2="492.46" y2="401.7" stroke="#bcbcbc" stroke-width="1.7"/>
<line x1="494.91" y1="400.1" x2="494.91" y2="403.9" stroke="#bcbcbc" stroke-width="1.7"/>
<line x1="497.36" y1="400.1" x2="497.36" y2="406.0" stroke="#bcbcbc" stroke-width="1.7"/>
<line x1="499.82" y1="400.1" x2="499.82" y2="408.4" stroke="#bcbcbc" stroke-width="1.7"/>
<line x1="502.27" y1="400.1" x2="502.27" y2="410.8" stroke="#bcbcbc" stroke-width="1.7"/>
<line x1="504.72" y1="400.1" x2="504.72" y2="413.3" stroke="#bcbcbc" stroke-width="1.7"/>
<line x1="507.17" y1="400.1" x2="507.17" y2="414.8" stroke="#bcbcbc" stroke-width="1.7"/>
<line x1="509.63" y1="400.1" x2="509.63" y2="414.6" stroke="#bcbcbc" stroke-width="1.7"/>
<line x1="512.08" y1="400.1" x2="512.08" y2="414.5" stroke="#bcbcbc" stroke-width="1.7"/>
<line x1="514.53" y1="400.1" x2="514.53" y2="414.4" stroke="#bcbcbc" stroke-width="1.7"/>
<line x1="516.98" y1="400.1" x2="516.98" y2="413.5" stroke="#bcbcbc" stroke-width="1.7"/>
<line x1="519.44" y1="400.1" x2="519.44" y2="412.3" stroke="#bcbcbc" stroke-width="1.7"/>
<line x1="521.89" y1="400.1" x2="521.89" y2="411.2" stroke="#bcbcbc" stroke-width="1.7"/>
<line x1="524.34" y1="400.1" x2="524.34" y2="410.0" stroke="#bcbcbc" stroke-width="1.7"/>
<line x1="526.79" y1="400.1" x2="526.79" y2="409.4" stroke="#bcbcbc" stroke-width="1.7"/>
<line x1="529.24" y1="400.1" x2="529.24" y2="409.7" stroke="#bcbcbc" stroke-width="1.7"/>
<line x1="531.70" y1="400.1" x2="531.70" y2="410.0" stroke="#bcbcbc" stroke-width="1.7"/>
<line x1="534.15" y1="400.1" x2="534.15" y2="410.2" stroke="#bcbcbc" stroke-width="1.7"/>
<line x1="536.60" y1="400.1" x2="536.60" y2="410.8" stroke="#bcbcbc" stroke-width="1.7"/>
<line x1="539.05" y1="400.1" x2="539.05" y2="411.3" stroke="#bcbcbc" stroke-width="1.7"/>
<line x1="541.51" y1="400.1" x2="541.51" y2="411.9" stroke="#bcbcbc" stroke-width="1.7"/>
<line x1="543.96" y1="400.1" x2="543.96" y2="412.5" stroke="#bcbcbc" stroke-width="1.7"/>
<line x1="546.41" y1="400.1" x2="546.41" y2="413.0" stroke="#bcbcbc" stroke-width="1.7"/>
<line x1="548.86" y1="400.1" x2="548.86" y2="413.6" stroke="#bcbcbc" stroke-width="1.7"/>
<line x1="551.32" y1="400.1" x2="551.32" y2="414.1" stroke="#bcbcbc" stroke-width="1.7"/>
<line x1="553.77" y1="400.1" x2="553.77" y2="414.6" stroke="#bcbcbc" stroke-width="1.7"/>
<line x1="556.22" y1="400.1" x2="556.22" y2="415.1" stroke="#bcbcbc" stroke-width="1.7"/>
<line x1="558.67" y1="400.1" x2="558.67" y2="415.7" stroke="#bcbcbc" stroke-width="1.7"/>
<line x1="561.12" y1="400.1" x2="561.12" y2="416.2" stroke="#bcbcbc" stroke-width="1.7"/>
<line x1="563.58" y1="400.1" x2="563.58" y2="415.9" stroke="#bcbcbc" stroke-width="1.7"/>
<line x1="566.03" y1="400.1" x2="566.03" y2="415.2" stroke="#bcbcbc" stroke-width="1.7"/>
<line x1="568.48" y1="400.1" x2="568.48" y2="414.5" stroke="#bcbcbc" stroke-width="1.7"/>
<line x1="570.93" y1="400.1" x2="570.93" y2="413.7" stroke="#bcbcbc" stroke-width="1.7"/>
<line x1="573.39" y1="400.1" x2="573.39" y2="413.4" stroke="#bcbcbc" stroke-width="1.7"/>
<line x1="575.84" y1="400.1" x2="575.84" y2="414.2" stroke="#bcbcbc" stroke-width="1.7"/>
<line x1="578.29" y1="400.1" x2="578.29" y2="415.0" stroke="#bcbcbc" stroke-width="1.7"/>
<line x1="580.74" y1="400.1" x2="580.74" y2="415.8" stroke="#bcbcbc" stroke-width="1.7"/>
<line x1="583.20" y1="400.1" x2="583.20" y2="416.7" stroke="#bcbcbc" stroke-width="1.7"/>
<line x1="585.65" y1="400.1" x2="585.65" y2="417.6" stroke="#bcbcbc" stroke-width="1.7"/>
<line x1="588.10" y1="400.1" x2="588.10" y2="418.6" stroke="#bcbcbc" stroke-width="1.7"/>
<line x1="590.55" y1="400.1" x2="590.55" y2="419.6" stroke="#bcbcbc" stroke-width="1.7"/>
<line x1="593.00" y1="400.1" x2="593.00" y2="420.7" stroke="#bcbcbc" stroke-width="1.7"/>
<line x1="595.46" y1="400.1" x2="595.46" y2="421.7" stroke="#bcbcbc" stroke-width="1.7"/>
<line x1="597.91" y1="400.1" x2="597.91" y2="422.7" stroke="#bcbcbc" stroke-width="1.7"/>
<line x1="600.36" y1="400.1" x2="600.36" y2="423.4" stroke="#bcbcbc" stroke-width="1.7"/>
<line x1="602.81" y1="400.1" x2="602.81" y2="424.0" stroke="#bcbcbc" stroke-width="1.7"/>
<line x1="605.27" y1="400.1" x2="605.27" y2="424.3" stroke="#bcbcbc" stroke-width="1.7"/>
<line x1="607.72" y1="400.1" x2="607.72" y2="424.4" stroke="#bcbcbc" stroke-width="1.7"/>
<line x1="610.17" y1="400.1" x2="610.17" y2="424.5" stroke="#bcbcbc" stroke-width="1.7"/>
<line x1="612.62" y1="400.1" x2="612.62" y2="424.6" stroke="#bcbcbc" stroke-width="1.7"/>
<line x1="615.08" y1="400.1" x2="615.08" y2="424.9" stroke="#bcbcbc" stroke-width="1.7"/>
<line x1="617.53" y1="400.1" x2="617.53" y2="425.3" stroke="#bcbcbc" stroke-width="1.7"/>
<line x1="619.98" y1="400.1" x2="619.98" y2="425.4" stroke="#bcbcbc" stroke-width="1.7"/>
<line x1="622.43" y1="400.1" x2="622.43" y2="424.7" stroke="#bcbcbc" stroke-width="1.7"/>
<line x1="624.88" y1="400.1" x2="624.88" y2="424.1" stroke="#bcbcbc" stroke-width="1.7"/>
<line x1="627.34" y1="400.1" x2="627.34" y2="423.4" stroke="#bcbcbc" stroke-width="1.7"/>
<line x1="629.79" y1="400.1" x2="629.79" y2="421.9" stroke="#bcbcbc" stroke-width="1.7"/>
<line x1="632.24" y1="400.1" x2="632.24" y2="420.4" stroke="#bcbcbc" stroke-width="1.7"/>
<line x1="634.69" y1="400.1" x2="634.69" y2="418.9" stroke="#bcbcbc" stroke-width="1.7"/>
<line x1="637.15" y1="400.1" x2="637.15" y2="417.4" stroke="#bcbcbc" stroke-width="1.7"/>
<line x1="639.60" y1="400.1" x2="639.60" y2="415.9" stroke="#bcbcbc" stroke-width="1.7"/>
<line x1="642.05" y1="400.1" x2="642.05" y2="414.5" stroke="#bcbcbc" stroke-width="1.7"/>
<line x1="644.50" y1="400.1" x2="644.50" y2="413.0" stroke="#bcbcbc" stroke-width="1.7"/>
<line x1="646.95" y1="400.1" x2="646.95" y2="412.7" stroke="#bcbcbc" stroke-width="1.7"/>
<line x1="649.41" y1="400.1" x2="649.41" y2="413.3" stroke="#bcbcbc" stroke-width="1.7"/>
<line x1="651.86" y1="400.1" x2="651.86" y2="414.1" stroke="#bcbcbc" stroke-width="1.7"/>
<line x1="654.31" y1="400.1" x2="654.31" y2="415.5" stroke="#bcbcbc" stroke-width="1.7"/>
<line x1="656.76" y1="400.1" x2="656.76" y2="416.9" stroke="#bcbcbc" stroke-width="1.7"/>
<line x1="659.22" y1="400.1" x2="659.22" y2="417.2" stroke="#bcbcbc" stroke-width="1.7"/>
<line x1="661.67" y1="400.1" x2="661.67" y2="416.0" stroke="#bcbcbc" stroke-width="1.7"/>
<line x1="664.12" y1="400.1" x2="664.12" y2="414.7" stroke="#bcbcbc" stroke-width="1.7"/>
<line x1="666.57" y1="400.1" x2="666.57" y2="411.8" stroke="#bcbcbc" stroke-width="1.7"/>
<line x1="669.03" y1="400.1" x2="669.03" y2="408.9" stroke="#bcbcbc" stroke-width="1.7"/>
<line x1="671.48" y1="400.1" x2="671.48" y2="406.0" stroke="#bcbcbc" stroke-width="1.7"/>
<line x1="673.93" y1="400.1" x2="673.93" y2="404.3" stroke="#bcbcbc" stroke-width="1.7"/>
<line x1="676.38" y1="400.1" x2="676.38" y2="403.0" stroke="#bcbcbc" stroke-width="1.7"/>
<line x1="678.83" y1="400.1" x2="678.83" y2="401.6" stroke="#bcbcbc" stroke-width="1.7"/>
<line x1="681.29" y1="400.1" x2="681.29" y2="400.7" stroke="#bcbcbc" stroke-width="1.7"/>
<line x1="683.74" y1="400.0" x2="683.74" y2="400.1" stroke="#bcbcbc" stroke-width="1.7"/>
<line x1="686.19" y1="400.0" x2="686.19" y2="400.1" stroke="#bcbcbc" stroke-width="1.7"/>
<line x1="688.64" y1="400.1" x2="688.64" y2="400.5" stroke="#bcbcbc" stroke-width="1.7"/>
<line x1="691.10" y1="400.1" x2="691.10" y2="401.5" stroke="#bcbcbc" stroke-width="1.7"/>
<line x1="693.55" y1="400.1" x2="693.55" y2="402.7" stroke="#bcbcbc" stroke-width="1.7"/>
<line x1="696.00" y1="400.1" x2="696.00" y2="402.7" stroke="#bcbcbc" stroke-width="1.7"/>
<path d="M2.00 411.90 C2.97 413.03 5.37 416.65 7.80 418.70 C10.23 420.75 13.67 423.55 16.60 424.20 C19.53 424.85 22.47 422.60 25.40 422.60 C28.33 422.60 31.43 423.93 34.20 424.20 C36.97 424.47 39.55 423.17 42.00 424.20 C44.45 425.23 46.43 428.28 48.90 430.40 C51.37 432.52 54.18 435.98 56.80 436.90 C59.42 437.82 61.18 437.78 64.60 435.90 C68.02 434.02 74.05 426.93 77.30 425.60 C80.55 424.27 81.65 428.72 84.10 427.90 C86.55 427.08 87.43 425.58 92.00 420.70 C96.57 415.82 107.58 402.20 111.50 398.60 C115.42 395.00 113.87 397.87 115.50 399.10 C117.13 400.33 118.70 404.20 121.30 406.00 C123.90 407.80 128.48 407.78 131.10 409.90 C133.72 412.02 135.37 415.28 137.00 418.70 C138.63 422.12 139.27 426.48 140.90 430.40 C142.53 434.32 145.28 440.07 146.80 442.20 C148.32 444.33 147.52 444.02 150.00 443.20 C152.48 442.38 157.78 439.92 161.70 437.30 C165.62 434.68 169.75 430.92 173.50 427.50 C177.25 424.08 180.93 419.18 184.20 416.80 C187.47 414.42 190.15 416.63 193.10 413.20 C196.05 409.77 198.97 401.08 201.90 396.20 C204.83 391.32 208.10 386.08 210.70 383.90 C213.30 381.72 214.90 383.82 217.50 383.10 C220.10 382.38 224.02 380.18 226.30 379.60 C228.58 379.02 229.40 378.78 231.20 379.60 C233.00 380.42 234.65 381.25 237.10 384.50 C239.55 387.75 243.13 394.53 245.90 399.10 C248.67 403.67 251.42 409.35 253.70 411.90 C255.98 414.45 257.32 413.50 259.60 414.40 C261.88 415.30 264.30 416.82 267.40 417.30 C270.50 417.78 275.27 418.05 278.20 417.30 C281.13 416.55 282.72 414.52 285.00 412.80 C287.28 411.08 289.40 407.07 291.90 407.00 C294.40 406.93 297.52 410.93 300.00 412.40 C302.48 413.87 304.85 415.98 306.80 415.80 C308.75 415.62 310.07 414.23 311.70 411.30 C313.33 408.37 314.97 402.02 316.60 398.20 C318.23 394.38 319.53 391.02 321.50 388.40 C323.47 385.78 326.12 383.75 328.40 382.50 C330.68 381.25 332.10 382.13 335.20 380.90 C338.30 379.67 343.25 376.68 347.00 375.10 C350.75 373.52 355.10 371.80 357.70 371.40 C360.30 371.00 360.15 371.40 362.60 372.70 C365.05 374.00 369.30 378.12 372.40 379.20 C375.50 380.28 377.93 379.53 381.20 379.20 C384.47 378.87 388.57 378.50 392.00 377.20 C395.43 375.90 398.87 371.98 401.80 371.40 C404.73 370.82 407.00 372.60 409.60 373.70 C412.20 374.80 414.47 376.53 417.40 378.00 C420.33 379.47 424.27 382.23 427.20 382.50 C430.13 382.77 432.55 381.07 435.00 379.60 C437.45 378.13 439.40 375.02 441.90 373.70 C444.40 372.38 447.35 372.62 450.00 371.70 C452.65 370.78 454.70 369.23 457.80 368.20 C460.90 367.17 465.67 365.07 468.60 365.50 C471.53 365.93 472.80 367.48 475.40 370.80 C478.00 374.12 481.25 380.52 484.20 385.40 C487.15 390.28 490.32 396.50 493.10 400.10 C495.88 403.70 498.30 404.55 500.90 407.00 C503.50 409.45 505.93 413.57 508.70 414.80 C511.47 416.03 514.23 415.32 517.50 414.40 C520.77 413.48 525.03 409.98 528.30 409.30 C531.57 408.62 533.85 409.72 537.10 410.30 C540.35 410.88 543.23 411.78 547.80 412.80 C552.37 413.82 559.93 416.33 564.50 416.40 C569.07 416.47 571.45 413.08 575.20 413.20 C578.95 413.32 582.87 415.53 587.00 417.10 C591.13 418.67 596.85 421.42 600.00 422.60 C603.15 423.78 603.28 423.87 605.90 424.20 C608.52 424.53 613.10 424.37 615.70 424.60 C618.30 424.83 619.22 425.77 621.50 425.60 C623.78 425.43 626.47 424.92 629.40 423.60 C632.33 422.28 636.00 419.57 639.10 417.70 C642.20 415.83 645.55 413.05 648.00 412.40 C650.45 411.75 651.68 412.92 653.80 413.80 C655.92 414.68 658.58 417.53 660.70 417.70 C662.82 417.87 664.22 416.85 666.50 414.80 C668.78 412.75 671.78 407.68 674.40 405.40 C677.02 403.12 680.08 402.05 682.20 401.10 C684.32 400.15 685.47 399.77 687.10 399.70 C688.73 399.63 690.53 400.20 692.00 400.70 C693.47 401.20 695.25 402.37 695.90 402.70" fill="none" stroke="#ff2a2a" stroke-width="0.95" stroke-linejoin="round"/>
<line x1="875" y1="4.5" x2="877.5" y2="4.5" stroke="#404040" stroke-width="0.8"/>
<text x="878.8" y="7.0" font-size="6.9" fill="#111" stroke="#111" stroke-width="0.1" textLength="16.8" lengthAdjust="spacingAndGlyphs">1.1830</text>
<line x1="875" y1="27.8" x2="877.5" y2="27.8" stroke="#404040" stroke-width="0.8"/>
<text x="878.8" y="30.3" font-size="6.9" fill="#111" stroke="#111" stroke-width="0.1" textLength="16.8" lengthAdjust="spacingAndGlyphs">1.1805</text>
<line x1="875" y1="51.1" x2="877.5" y2="51.1" stroke="#404040" stroke-width="0.8"/>
<text x="878.8" y="53.6" font-size="6.9" fill="#111" stroke="#111" stroke-width="0.1" textLength="16.8" lengthAdjust="spacingAndGlyphs">1.1780</text>
<line x1="875" y1="97.6" x2="877.5" y2="97.6" stroke="#404040" stroke-width="0.8"/>
<text x="878.8" y="100.1" font-size="6.9" fill="#111" stroke="#111" stroke-width="0.1" textLength="16.8" lengthAdjust="spacingAndGlyphs">1.1730</text>
<line x1="875" y1="120.9" x2="877.5" y2="120.9" stroke="#404040" stroke-width="0.8"/>
<text x="878.8" y="123.4" font-size="6.9" fill="#111" stroke="#111" stroke-width="0.1" textLength="16.8" lengthAdjust="spacingAndGlyphs">1.1705</text>
<line x1="875" y1="144.2" x2="877.5" y2="144.2" stroke="#404040" stroke-width="0.8"/>
<text x="878.8" y="146.7" font-size="6.9" fill="#111" stroke="#111" stroke-width="0.1" textLength="16.8" lengthAdjust="spacingAndGlyphs">1.1680</text>
<line x1="875" y1="167.5" x2="877.5" y2="167.5" stroke="#404040" stroke-width="0.8"/>
<text x="878.8" y="170.0" font-size="6.9" fill="#111" stroke="#111" stroke-width="0.1" textLength="16.8" lengthAdjust="spacingAndGlyphs">1.1655</text>
<line x1="875" y1="190.7" x2="877.5" y2="190.7" stroke="#404040" stroke-width="0.8"/>
<text x="878.8" y="193.2" font-size="6.9" fill="#111" stroke="#111" stroke-width="0.1" textLength="16.8" lengthAdjust="spacingAndGlyphs">1.1630</text>
<line x1="875" y1="214.0" x2="877.5" y2="214.0" stroke="#404040" stroke-width="0.8"/>
<text x="878.8" y="216.5" font-size="6.9" fill="#111" stroke="#111" stroke-width="0.1" textLength="16.8" lengthAdjust="spacingAndGlyphs">1.1605</text>
<line x1="875" y1="237.3" x2="877.5" y2="237.3" stroke="#404040" stroke-width="0.8"/>
<text x="878.8" y="239.8" font-size="6.9" fill="#111" stroke="#111" stroke-width="0.1" textLength="16.8" lengthAdjust="spacingAndGlyphs">1.1580</text>
<line x1="875" y1="260.6" x2="877.5" y2="260.6" stroke="#404040" stroke-width="0.8"/>
<text x="878.8" y="263.1" font-size="6.9" fill="#111" stroke="#111" stroke-width="0.1" textLength="16.8" lengthAdjust="spacingAndGlyphs">1.1555</text>
<line x1="875" y1="283.9" x2="877.5" y2="283.9" stroke="#404040" stroke-width="0.8"/>
<text x="878.8" y="286.4" font-size="6.9" fill="#111" stroke="#111" stroke-width="0.1" textLength="16.8" lengthAdjust="spacingAndGlyphs">1.1530</text>
<line x1="875" y1="307.1" x2="877.5" y2="307.1" stroke="#404040" stroke-width="0.8"/>
<text x="878.8" y="309.6" font-size="6.9" fill="#111" stroke="#111" stroke-width="0.1" textLength="16.8" lengthAdjust="spacingAndGlyphs">1.1505</text>
<line x1="875" y1="330.4" x2="877.5" y2="330.4" stroke="#404040" stroke-width="0.8"/>
<text x="878.8" y="332.9" font-size="6.9" fill="#111" stroke="#111" stroke-width="0.1" textLength="16.8" lengthAdjust="spacingAndGlyphs">1.1480</text>
<rect x="876" y="72.2" width="22" height="6.3" fill="#ff0000"/>
<text x="878.8" y="77.8" font-size="6.9" fill="#fff" stroke="#fff" stroke-width="0.08" textLength="16.8" lengthAdjust="spacingAndGlyphs">1.1754</text>
<rect x="876" y="154.1" width="22" height="6.3" fill="#ff0000"/>
<text x="878.8" y="159.7" font-size="6.9" fill="#fff" stroke="#fff" stroke-width="0.08" textLength="16.8" lengthAdjust="spacingAndGlyphs">1.1666</text>
<rect x="876" y="222.2" width="22" height="6.3" fill="#000"/>
<text x="878.8" y="227.8" font-size="6.9" fill="#fff" stroke="#fff" stroke-width="0.08" textLength="16.8" lengthAdjust="spacingAndGlyphs">1.1593</text>
<rect x="876" y="230.8" width="22" height="6.3" fill="#ff0000"/>
<text x="878.8" y="236.4" font-size="6.9" fill="#fff" stroke="#fff" stroke-width="0.08" textLength="16.8" lengthAdjust="spacingAndGlyphs">1.1584</text>
<rect x="876" y="350.5" width="22" height="6.3" fill="#ff0000"/>
<text x="878.8" y="356.1" font-size="6.9" fill="#fff" stroke="#fff" stroke-width="0.08" textLength="16.8" lengthAdjust="spacingAndGlyphs">1.1455</text>
<line x1="875" y1="364.8" x2="877.5" y2="364.8" stroke="#404040" stroke-width="0.8"/>
<text x="878.8" y="367.3" font-size="6.9" fill="#111" stroke="#111" stroke-width="0.1" textLength="19.3" lengthAdjust="spacingAndGlyphs">0.00106</text>
<line x1="875" y1="400.1" x2="877.5" y2="400.1" stroke="#404040" stroke-width="0.8"/>
<text x="878.8" y="402.6" font-size="6.9" fill="#111" stroke="#111" stroke-width="0.1" textLength="10.5" lengthAdjust="spacingAndGlyphs">0.00</text>
<line x1="875" y1="442.6" x2="877.5" y2="442.6" stroke="#404040" stroke-width="0.8"/>
<text x="878.8" y="445.1" font-size="6.9" fill="#111" stroke="#111" stroke-width="0.1" textLength="21.5" lengthAdjust="spacingAndGlyphs">-0.00128</text>
<line x1="2.00" y1="447" x2="2.00" y2="450" stroke="#404040" stroke-width="0.8"/>
<text x="1.70" y="455.2" font-size="6.9" fill="#111" stroke="#111" stroke-width="0.1" textLength="27" lengthAdjust="spacingAndGlyphs">7 Oct 2025</text>
<line x1="41.24" y1="447" x2="41.24" y2="450" stroke="#404040" stroke-width="0.8"/>
<text x="40.94" y="455.2" font-size="6.9" fill="#111" stroke="#111" stroke-width="0.1" textLength="29.7" lengthAdjust="spacingAndGlyphs">8 Oct 03:00</text>
<line x1="80.47" y1="447" x2="80.47" y2="450" stroke="#404040" stroke-width="0.8"/>
<text x="80.17" y="455.2" font-size="6.9" fill="#111" stroke="#111" stroke-width="0.1" textLength="29.7" lengthAdjust="spacingAndGlyphs">8 Oct 19:00</text>
<line x1="119.71" y1="447" x2="119.71" y2="450" stroke="#404040" stroke-width="0.8"/>
<text x="119.41" y="455.2" font-size="6.9" fill="#111" stroke="#111" stroke-width="0.1" textLength="29.7" lengthAdjust="spacingAndGlyphs">9 Oct 11:00</text>
<line x1="158.95" y1="447" x2="158.95" y2="450" stroke="#404040" stroke-width="0.8"/>
<text x="158.65" y="455.2" font-size="6.9" fill="#111" stroke="#111" stroke-width="0.1" textLength="32.5" lengthAdjust="spacingAndGlyphs">10 Oct 03:00</text>
<line x1="198.18" y1="447" x2="198.18" y2="450" stroke="#404040" stroke-width="0.8"/>
<text x="197.88" y="455.2" font-size="6.9" fill="#111" stroke="#111" stroke-width="0.1" textLength="32.5" lengthAdjust="spacingAndGlyphs">10 Oct 19:00</text>
<line x1="237.42" y1="447" x2="237.42" y2="450" stroke="#404040" stroke-width="0.8"/>
<text x="237.12" y="455.2" font-size="6.9" fill="#111" stroke="#111" stroke-width="0.1" textLength="32.5" lengthAdjust="spacingAndGlyphs">13 Oct 11:00</text>
<line x1="276.66" y1="447" x2="276.66" y2="450" stroke="#404040" stroke-width="0.8"/>
<text x="276.36" y="455.2" font-size="6.9" fill="#111" stroke="#111" stroke-width="0.1" textLength="32.5" lengthAdjust="spacingAndGlyphs">14 Oct 03:00</text>
<line x1="315.89" y1="447" x2="315.89" y2="450" stroke="#404040" stroke-width="0.8"/>
<text x="315.59" y="455.2" font-size="6.9" fill="#111" stroke="#111" stroke-width="0.1" textLength="32.5" lengthAdjust="spacingAndGlyphs">14 Oct 19:00</text>
<line x1="355.13" y1="447" x2="355.13" y2="450" stroke="#404040" stroke-width="0.8"/>
<text x="354.83" y="455.2" font-size="6.9" fill="#111" stroke="#111" stroke-width="0.1" textLength="32.5" lengthAdjust="spacingAndGlyphs">15 Oct 11:00</text>
<line x1="394.37" y1="447" x2="394.37" y2="450" stroke="#404040" stroke-width="0.8"/>
<text x="394.07" y="455.2" font-size="6.9" fill="#111" stroke="#111" stroke-width="0.1" textLength="32.5" lengthAdjust="spacingAndGlyphs">16 Oct 03:00</text>
<line x1="433.60" y1="447" x2="433.60" y2="450" stroke="#404040" stroke-width="0.8"/>
<text x="433.30" y="455.2" font-size="6.9" fill="#111" stroke="#111" stroke-width="0.1" textLength="32.5" lengthAdjust="spacingAndGlyphs">16 Oct 19:00</text>
<line x1="472.84" y1="447" x2="472.84" y2="450" stroke="#404040" stroke-width="0.8"/>
<text x="472.54" y="455.2" font-size="6.9" fill="#111" stroke="#111" stroke-width="0.1" textLength="32.5" lengthAdjust="spacingAndGlyphs">17 Oct 11:00</text>
<line x1="512.08" y1="447" x2="512.08" y2="450" stroke="#404040" stroke-width="0.8"/>
<text x="511.78" y="455.2" font-size="6.9" fill="#111" stroke="#111" stroke-width="0.1" textLength="32.5" lengthAdjust="spacingAndGlyphs">20 Oct 03:00</text>
<line x1="551.32" y1="447" x2="551.32" y2="450" stroke="#404040" stroke-width="0.8"/>
<text x="551.02" y="455.2" font-size="6.9" fill="#111" stroke="#111" stroke-width="0.1" textLength="32.5" lengthAdjust="spacingAndGlyphs">20 Oct 19:00</text>
<line x1="590.55" y1="447" x2="590.55" y2="450" stroke="#404040" stroke-width="0.8"/>
<text x="590.25" y="455.2" font-size="6.9" fill="#111" stroke="#111" stroke-width="0.1" textLength="32.5" lengthAdjust="spacingAndGlyphs">21 Oct 11:00</text>
<line x1="629.79" y1="447" x2="629.79" y2="450" stroke="#404040" stroke-width="0.8"/>
<text x="629.49" y="455.2" font-size="6.9" fill="#111" stroke="#111" stroke-width="0.1" textLength="32.5" lengthAdjust="spacingAndGlyphs">22 Oct 03:00</text>
<line x1="669.03" y1="447" x2="669.03" y2="450" stroke="#404040" stroke-width="0.8"/>
<text x="668.73" y="455.2" font-size="6.9" fill="#111" stroke="#111" stroke-width="0.1" textLength="32.5" lengthAdjust="spacingAndGlyphs">22 Oct 19:00</text>
<path d="M3.8 5.6 L8 5.6 L5.9 7.9 Z" fill="#000"/>
<text x="11" y="8.8" font-size="6.9" fill="#111" stroke="#111" stroke-width="0.1" textLength="33" lengthAdjust="spacingAndGlyphs">EURUSD,H1</text>
<text x="4.9" y="367.9" font-size="6.9" fill="#111" stroke="#111" stroke-width="0.1" textLength="87.2" lengthAdjust="spacingAndGlyphs">MACD(14,22,3) -0.00013 -0.00008</text>
</svg></body></html>
